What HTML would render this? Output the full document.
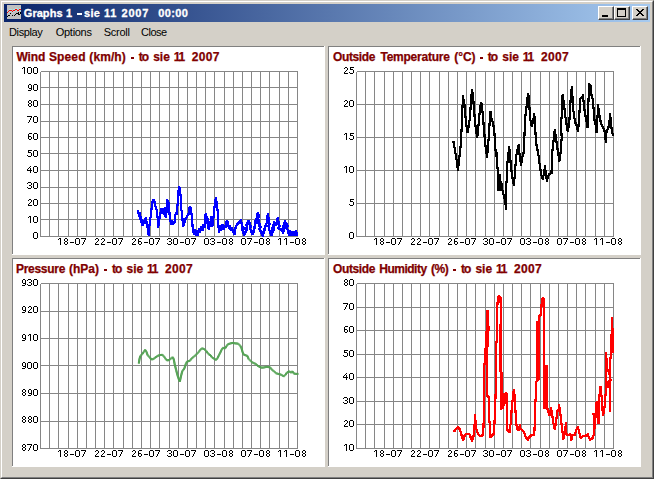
<!DOCTYPE html>
<html><head><meta charset="utf-8"><title>Graphs 1</title>
<style>
html,body{margin:0;padding:0;}
body{width:654px;height:479px;background:#d4d0c8;position:relative;overflow:hidden;font-family:"Liberation Sans",sans-serif;}
#frame{position:absolute;left:0;top:0;width:652px;height:477px;border-top:1px solid #d4d0c8;border-left:1px solid #d4d0c8;border-right:1px solid #404040;border-bottom:1px solid #404040;}
#frame2{position:absolute;left:1px;top:1px;width:650px;height:475px;border-top:1px solid #fff;border-left:1px solid #fff;border-right:1px solid #808080;border-bottom:1px solid #808080;}
#tb{position:absolute;left:4px;top:4px;width:646px;height:18px;background:linear-gradient(to right,#0a246a 0%,#a6caf0 100%);}
.tt{position:absolute;height:18px;line-height:18px;font-size:11px;font-weight:bold;color:#fff;white-space:pre;-webkit-text-stroke:0.3px #fff;}
.btn{position:absolute;top:6px;width:16px;height:14px;background:#d4d0c8;box-sizing:border-box;border-top:1px solid #fff;border-left:1px solid #fff;border-right:1px solid #404040;border-bottom:1px solid #404040;}
.btn i{position:absolute;left:0;top:0;right:0;bottom:0;border-right:1px solid #808080;border-bottom:1px solid #808080;}
.mi{position:absolute;height:16px;line-height:16px;font-size:11px;color:#000;white-space:pre;}
.panel{position:absolute;width:313px;height:209px;background:#fff;}
.panel:before{content:'';position:absolute;left:0;top:0;width:312px;height:1px;background:#808080;}
.panel:after{content:'';position:absolute;left:0;top:0;width:1px;height:208px;background:#808080;}
.pt{position:absolute;font-size:12px;font-weight:bold;color:#800000;-webkit-text-stroke:0.25px #800000;white-space:pre;line-height:14px;height:14px;}
.bx{position:absolute;}
svg{position:absolute;left:0;top:0;}
.btn svg{left:-1px;top:-1px;}
</style></head>
<body>
<div id="frame"></div><div id="frame2"></div>
<div id="tb"></div>
<svg width="654" height="479" viewBox="0 0 654 479" shape-rendering="crispEdges"><rect x="7" y="5" width="14" height="14" fill="#c0c0c0"/><path d="M15 8h1v1h-1zM16 8h1v1h-1zM17 8h1v1h-1zM19 8h1v1h-1zM20 8h1v1h-1zM9 9h1v1h-1zM10 9h1v1h-1zM11 9h1v1h-1zM13 9h1v1h-1zM14 9h1v1h-1zM7 11h1v1h-1zM9 11h1v1h-1zM10 11h1v1h-1zM11 11h1v1h-1zM13 11h1v1h-1zM14 11h1v1h-1zM16 10h1v1h-1zM19 10h1v1h-1zM20 10h1v1h-1zM8 12h1v1h-1zM12 12h1v1h-1z" fill="#b0e0e0"/><path d="M7 12h1v1h-1zM8 11h1v1h-1zM9 10h1v1h-1zM10 10h1v1h-1zM11 10h1v1h-1zM12 11h1v1h-1zM13 10h1v1h-1zM14 10h1v1h-1zM15 9h1v1h-1zM16 9h1v1h-1zM17 10h1v1h-1zM18 10h1v1h-1zM19 9h1v1h-1zM20 9h1v1h-1z" fill="#ff0000"/><path d="M7 16h1v1h-1zM8 15h1v1h-1zM9 15h1v1h-1zM10 13h1v1h-1zM12 15h1v1h-1zM14 15h1v1h-1zM15 14h1v1h-1zM16 13h1v1h-1zM17 13h1v1h-1zM18 12h1v1h-1zM18 13h1v1h-1zM18 14h1v1h-1zM19 14h1v1h-1zM20 12h1v1h-1zM20 13h1v1h-1z" fill="#000"/></svg>
<div class="btn" style="left:598px"><i></i><svg width="16" height="14" shape-rendering="crispEdges"><rect x="4" y="9" width="6" height="2" fill="#000"/></svg></div>
<div class="btn" style="left:614px"><i></i><svg width="16" height="14" shape-rendering="crispEdges"><rect x="3" y="2" width="9" height="2" fill="#000"/><rect x="3" y="2" width="1" height="9" fill="#000"/><rect x="11" y="2" width="1" height="9" fill="#000"/><rect x="3" y="10" width="9" height="1" fill="#000"/></svg></div>
<div class="btn" style="left:632px"><i></i><svg width="16" height="14" shape-rendering="crispEdges"><path d="M4 3h2v1h1v1h2v-1h1v-1h2v1h-1v1h-1v1h-1v1h1v1h1v1h1v1h-2v-1h-1v-1h-2v1h-1v1h-2v-1h1v-1h1v-1h1v-1h-1v-1h-1v-1h-1z" fill="#000"/></svg></div>
<div class="panel" style="left:12px;top:46px"></div>
<div class="panel" style="left:328px;top:46px"></div>
<div class="panel" style="left:12px;top:258px"></div>
<div class="panel" style="left:328px;top:258px"></div>
<div class="tt" style="left:23.8px;top:4px;letter-spacing:0.04px">Graphs</div>
<div class="tt" style="left:66px;top:4px">1</div>
<div class="tt" style="left:84px;top:4px;letter-spacing:0.35px">sie</div>
<div class="tt" style="left:104px;top:4px;letter-spacing:0.8px">11</div>
<div class="tt" style="left:121.5px;top:4px;letter-spacing:0.77px">2007</div>
<div class="tt" style="left:158.2px;top:4px;letter-spacing:0.4px">00:00</div>
<div class="mi" style="left:9px;top:24px;letter-spacing:-0.38px">Display</div>
<div class="mi" style="left:55.8px;top:24px;letter-spacing:-0.3px">Options</div>
<div class="mi" style="left:103.8px;top:24px;letter-spacing:-0.26px">Scroll</div>
<div class="mi" style="left:141px;top:24px;letter-spacing:-0.5px">Close</div>
<div class="pt" style="left:16.4px;top:50px;letter-spacing:-0.07px">Wind</div>
<div class="pt" style="left:49px;top:50px;letter-spacing:0.12px">Speed</div>
<div class="pt" style="left:89.3px;top:50px;letter-spacing:0.1px">(km/h)</div>
<div class="pt" style="left:138.7px;top:50px;letter-spacing:-1px">to</div>
<div class="pt" style="left:153.2px;top:50px">sie</div>
<div class="pt" style="left:173.7px;top:50px;letter-spacing:-1.2px">11</div>
<div class="pt" style="left:191.8px;top:50px;letter-spacing:0.33px">2007</div>
<div class="pt" style="left:333px;top:50px;letter-spacing:-0.38px">Outside</div>
<div class="pt" style="left:380.5px;top:50px;letter-spacing:-0.25px">Temperature</div>
<div class="pt" style="left:454.3px;top:50px;letter-spacing:-0.1px">(°C)</div>
<div class="pt" style="left:487.8px;top:50px;letter-spacing:-1px">to</div>
<div class="pt" style="left:502.3px;top:50px">sie</div>
<div class="pt" style="left:522.8px;top:50px;letter-spacing:-1.2px">11</div>
<div class="pt" style="left:540.9px;top:50px;letter-spacing:0.33px">2007</div>
<div class="pt" style="left:16px;top:262px;letter-spacing:-0.29px">Pressure</div>
<div class="pt" style="left:69px;top:262px">(hPa)</div>
<div class="pt" style="left:112px;top:262px;letter-spacing:-1px">to</div>
<div class="pt" style="left:126.5px;top:262px">sie</div>
<div class="pt" style="left:147px;top:262px;letter-spacing:-1.2px">11</div>
<div class="pt" style="left:165.1px;top:262px;letter-spacing:0.33px">2007</div>
<div class="pt" style="left:333px;top:262px;letter-spacing:-0.38px">Outside</div>
<div class="pt" style="left:379.3px;top:262px;letter-spacing:-0.51px">Humidity</div>
<div class="pt" style="left:431px;top:262px;letter-spacing:-0.5px">(%)</div>
<div class="pt" style="left:460.9px;top:262px;letter-spacing:-1px">to</div>
<div class="pt" style="left:475.4px;top:262px">sie</div>
<div class="pt" style="left:495.9px;top:262px;letter-spacing:-1.2px">11</div>
<div class="pt" style="left:514px;top:262px;letter-spacing:0.33px">2007</div>
<div class="bx" style="left:77px;top:13px;width:4.5px;height:2px;background:#fff"></div>
<div class="bx" style="left:131px;top:57px;width:3px;height:1.5px;background:#800000"></div>
<div class="bx" style="left:480px;top:57px;width:3px;height:1.5px;background:#800000"></div>
<div class="bx" style="left:104px;top:269px;width:3px;height:1.5px;background:#800000"></div>
<div class="bx" style="left:453px;top:269px;width:3px;height:1.5px;background:#800000"></div>








<svg width="654" height="479" viewBox="0 0 654 479">
<path d="M40.5 71.5V236.5M49.5 71.5V236.5M58.5 71.5V236.5M68.5 71.5V236.5M77.5 71.5V236.5M86.5 71.5V236.5M95.5 71.5V236.5M104.5 71.5V236.5M113.5 71.5V236.5M123.5 71.5V236.5M132.5 71.5V236.5M141.5 71.5V236.5M150.5 71.5V236.5M159.5 71.5V236.5M169.5 71.5V236.5M178.5 71.5V236.5M187.5 71.5V236.5M196.5 71.5V236.5M205.5 71.5V236.5M214.5 71.5V236.5M224.5 71.5V236.5M233.5 71.5V236.5M242.5 71.5V236.5M251.5 71.5V236.5M260.5 71.5V236.5M269.5 71.5V236.5M279.5 71.5V236.5M288.5 71.5V236.5M297.5 71.5V236.5M40.5 71.5H297.5M40.5 87.5H297.5M40.5 104.5H297.5M40.5 121.5H297.5M40.5 137.5H297.5M40.5 153.5H297.5M40.5 170.5H297.5M40.5 187.5H297.5M40.5 203.5H297.5M40.5 219.5H297.5M40.5 236.5H297.5" stroke="#868686" stroke-width="1" fill="none" shape-rendering="crispEdges"/>
<polyline points="138.1,210.6 138.9,215.9 139.6,213 140.1,219.4 140.8,217.1 141.2,222.3 141.9,220 142.4,225.5 143.4,221.7 143.9,221.2 144.8,222.7 145.7,217.7 146.6,221.7 147.4,226.4 148.3,231.1 148.6,235.2 149.2,228.8 149.8,221.7 150.6,217.1 151.5,208.9 152.5,201.9 153.6,199.5 154.8,203 155.6,207.1 156.8,210.1 157.4,215.9 158,221.7 158.2,227 159.1,220.6 160.3,214.7 161.1,209.5 162.1,212.6 163,208.7 163.8,213.8 164.6,208.3 165.3,216.1 165.8,210.1 166.3,217.1 166.7,205.4 167.3,199.5 167.9,206 168.4,200.7 168.8,212.6 169.3,209.1 169.7,217.1 170.5,221.7 171.2,223.9 172.1,221.5 172.8,223.6 173.7,221.7 174.4,223.6 174.9,217.1 175.9,213 176.7,213.6 177.5,205.4 178.2,193.7 179,186.7 180.2,190.2 180.8,199.5 181.3,208.9 181.9,213.6 182.5,219.4 183.1,226.4 184.3,222.9 185.4,219.4 187.2,215.9 188.4,213.6 188.7,213.6 189.6,207.1 191,207.7 191.6,214.7 192.2,221.7 192.8,228.8 193.9,234 194.8,230.5 195.7,235.5 196.9,231.1 197.8,234.6 199,229.3 200.1,232.3 201.3,227 202.5,229.9 203.6,224.7 204.5,227 205,221.7 205.6,214.1 206.8,217.1 207.1,222.9 207.7,219.4 208.2,228.2 208.9,229.3 209.5,221.7 210.3,225.8 210.9,217.1 211.8,219.4 212.3,225.8 213,225.3 213.5,217.1 214.2,210.1 215,201.9 215.8,198.4 216.7,203 217.7,211.2 218.1,220.6 218.6,227.6 219.1,231.7 220,225.8 220.8,229.9 221.6,226.4 222.6,224.7 223.5,229.3 224.4,225.8 225.5,227 226.3,222.3 227.5,221.2 228.2,225.3 229,228.2 229.8,226.4 230.8,230.5 231.9,227.6 233.1,231.1 234.5,234 235.2,228.8 236,227 236.6,225.3 238,223.5 238.1,223.5 239.8,221.7 241.2,219.6 241,222.2 242.4,223.8 242.2,226.4 243.3,227.9 241.9,229.6 243.1,231.1 243,232.3 244.4,233.9 244.3,235.2 245.7,232.3 244.3,233.9 245.7,231.1 245.4,227.9 246.8,229.6 246.6,226.4 247.9,223.2 246.5,224.9 247.8,221.7 249,220.6 248.7,222.1 250.1,223.8 249.8,225.3 251.1,226.8 249.7,228.4 251,229.9 251.1,231.4 252.4,233.1 252.5,234.6 253.9,231.4 252.5,233.1 253.9,229.9 253.7,226.8 255.1,228.4 254.8,225.3 256.1,221.6 254.7,223.2 256,219.4 257.4,217.1 257,214.4 258.4,216 258,213.3 259.1,216.1 257.7,217.8 258.8,220.6 258.4,222.7 259.8,224.3 259.5,226.4 260.6,227.3 259.2,229 260.3,229.9 260.2,230.8 261.6,232.5 261.5,233.4 262.6,235.8 263.9,232.6 262.5,234.2 263.8,231.1 263.7,228.5 265.1,230.2 265,227.6 266.1,224.7 267.3,221.7 268.3,217.3 266.9,218.9 267.9,214.5 267.7,217.3 269.1,218.9 268.8,221.7 269.8,224.4 268.4,226.1 269.3,228.8 269.1,229.8 270.4,231.4 270.2,232.3 271.4,235.2 272.7,232.3 271.3,233.9 272.6,231.1 272.4,227.9 273.8,229.6 273.5,226.4 274.6,223.6 273.2,225.2 274.3,222.3 275.5,225.3 275.4,222.7 276.8,224.3 276.7,221.7 277.9,219.3 276.6,220.9 277.8,218.5 277.6,221.1 279,222.7 278.8,225.3 279.9,226.2 278.5,227.9 279.6,228.8 280.8,229.9 281.9,228.8 281.7,230.3 283.1,231.9 282.9,233.4 284,230.3 282.6,231.9 283.7,228.8 283.4,225.6 284.8,227.2 284.5,224.1 285.6,221.5 284.2,223.2 285.4,220.6 285.2,222.1 286.6,223.8 286.4,225.3 287.5,226.2 286.1,227.9 287.2,228.8 288,231.1 288,232 289,235 290,231.5 291,235 292,232 293,235 294,232 295,235 296,231 297,235" fill="none" stroke="#0000ff" stroke-width="1.1" stroke-linejoin="round" stroke-linecap="square" shape-rendering="crispEdges" transform="translate(-0.5 -0.5)"/>
<polyline points="138.1,210.6 138.9,215.9 139.6,213 140.1,219.4 140.8,217.1 141.2,222.3 141.9,220 142.4,225.5 143.4,221.7 143.9,221.2 144.8,222.7 145.7,217.7 146.6,221.7 147.4,226.4 148.3,231.1 148.6,235.2 149.2,228.8 149.8,221.7 150.6,217.1 151.5,208.9 152.5,201.9 153.6,199.5 154.8,203 155.6,207.1 156.8,210.1 157.4,215.9 158,221.7 158.2,227 159.1,220.6 160.3,214.7 161.1,209.5 162.1,212.6 163,208.7 163.8,213.8 164.6,208.3 165.3,216.1 165.8,210.1 166.3,217.1 166.7,205.4 167.3,199.5 167.9,206 168.4,200.7 168.8,212.6 169.3,209.1 169.7,217.1 170.5,221.7 171.2,223.9 172.1,221.5 172.8,223.6 173.7,221.7 174.4,223.6 174.9,217.1 175.9,213 176.7,213.6 177.5,205.4 178.2,193.7 179,186.7 180.2,190.2 180.8,199.5 181.3,208.9 181.9,213.6 182.5,219.4 183.1,226.4 184.3,222.9 185.4,219.4 187.2,215.9 188.4,213.6 188.7,213.6 189.6,207.1 191,207.7 191.6,214.7 192.2,221.7 192.8,228.8 193.9,234 194.8,230.5 195.7,235.5 196.9,231.1 197.8,234.6 199,229.3 200.1,232.3 201.3,227 202.5,229.9 203.6,224.7 204.5,227 205,221.7 205.6,214.1 206.8,217.1 207.1,222.9 207.7,219.4 208.2,228.2 208.9,229.3 209.5,221.7 210.3,225.8 210.9,217.1 211.8,219.4 212.3,225.8 213,225.3 213.5,217.1 214.2,210.1 215,201.9 215.8,198.4 216.7,203 217.7,211.2 218.1,220.6 218.6,227.6 219.1,231.7 220,225.8 220.8,229.9 221.6,226.4 222.6,224.7 223.5,229.3 224.4,225.8 225.5,227 226.3,222.3 227.5,221.2 228.2,225.3 229,228.2 229.8,226.4 230.8,230.5 231.9,227.6 233.1,231.1 234.5,234 235.2,228.8 236,227 236.6,225.3 238,223.5 238.1,223.5 239.8,221.7 241.2,219.6 241,222.2 242.4,223.8 242.2,226.4 243.3,227.9 241.9,229.6 243.1,231.1 243,232.3 244.4,233.9 244.3,235.2 245.7,232.3 244.3,233.9 245.7,231.1 245.4,227.9 246.8,229.6 246.6,226.4 247.9,223.2 246.5,224.9 247.8,221.7 249,220.6 248.7,222.1 250.1,223.8 249.8,225.3 251.1,226.8 249.7,228.4 251,229.9 251.1,231.4 252.4,233.1 252.5,234.6 253.9,231.4 252.5,233.1 253.9,229.9 253.7,226.8 255.1,228.4 254.8,225.3 256.1,221.6 254.7,223.2 256,219.4 257.4,217.1 257,214.4 258.4,216 258,213.3 259.1,216.1 257.7,217.8 258.8,220.6 258.4,222.7 259.8,224.3 259.5,226.4 260.6,227.3 259.2,229 260.3,229.9 260.2,230.8 261.6,232.5 261.5,233.4 262.6,235.8 263.9,232.6 262.5,234.2 263.8,231.1 263.7,228.5 265.1,230.2 265,227.6 266.1,224.7 267.3,221.7 268.3,217.3 266.9,218.9 267.9,214.5 267.7,217.3 269.1,218.9 268.8,221.7 269.8,224.4 268.4,226.1 269.3,228.8 269.1,229.8 270.4,231.4 270.2,232.3 271.4,235.2 272.7,232.3 271.3,233.9 272.6,231.1 272.4,227.9 273.8,229.6 273.5,226.4 274.6,223.6 273.2,225.2 274.3,222.3 275.5,225.3 275.4,222.7 276.8,224.3 276.7,221.7 277.9,219.3 276.6,220.9 277.8,218.5 277.6,221.1 279,222.7 278.8,225.3 279.9,226.2 278.5,227.9 279.6,228.8 280.8,229.9 281.9,228.8 281.7,230.3 283.1,231.9 282.9,233.4 284,230.3 282.6,231.9 283.7,228.8 283.4,225.6 284.8,227.2 284.5,224.1 285.6,221.5 284.2,223.2 285.4,220.6 285.2,222.1 286.6,223.8 286.4,225.3 287.5,226.2 286.1,227.9 287.2,228.8 288,231.1 288,232 289,235 290,231.5 291,235 292,232 293,235 294,232 295,235 296,231 297,235" fill="none" stroke="#0000ff" stroke-width="1.1" stroke-linejoin="round" stroke-linecap="square" shape-rendering="crispEdges" transform="translate(0.5 -0.5)"/>
<polyline points="138.1,210.6 138.9,215.9 139.6,213 140.1,219.4 140.8,217.1 141.2,222.3 141.9,220 142.4,225.5 143.4,221.7 143.9,221.2 144.8,222.7 145.7,217.7 146.6,221.7 147.4,226.4 148.3,231.1 148.6,235.2 149.2,228.8 149.8,221.7 150.6,217.1 151.5,208.9 152.5,201.9 153.6,199.5 154.8,203 155.6,207.1 156.8,210.1 157.4,215.9 158,221.7 158.2,227 159.1,220.6 160.3,214.7 161.1,209.5 162.1,212.6 163,208.7 163.8,213.8 164.6,208.3 165.3,216.1 165.8,210.1 166.3,217.1 166.7,205.4 167.3,199.5 167.9,206 168.4,200.7 168.8,212.6 169.3,209.1 169.7,217.1 170.5,221.7 171.2,223.9 172.1,221.5 172.8,223.6 173.7,221.7 174.4,223.6 174.9,217.1 175.9,213 176.7,213.6 177.5,205.4 178.2,193.7 179,186.7 180.2,190.2 180.8,199.5 181.3,208.9 181.9,213.6 182.5,219.4 183.1,226.4 184.3,222.9 185.4,219.4 187.2,215.9 188.4,213.6 188.7,213.6 189.6,207.1 191,207.7 191.6,214.7 192.2,221.7 192.8,228.8 193.9,234 194.8,230.5 195.7,235.5 196.9,231.1 197.8,234.6 199,229.3 200.1,232.3 201.3,227 202.5,229.9 203.6,224.7 204.5,227 205,221.7 205.6,214.1 206.8,217.1 207.1,222.9 207.7,219.4 208.2,228.2 208.9,229.3 209.5,221.7 210.3,225.8 210.9,217.1 211.8,219.4 212.3,225.8 213,225.3 213.5,217.1 214.2,210.1 215,201.9 215.8,198.4 216.7,203 217.7,211.2 218.1,220.6 218.6,227.6 219.1,231.7 220,225.8 220.8,229.9 221.6,226.4 222.6,224.7 223.5,229.3 224.4,225.8 225.5,227 226.3,222.3 227.5,221.2 228.2,225.3 229,228.2 229.8,226.4 230.8,230.5 231.9,227.6 233.1,231.1 234.5,234 235.2,228.8 236,227 236.6,225.3 238,223.5 238.1,223.5 239.8,221.7 241.2,219.6 241,222.2 242.4,223.8 242.2,226.4 243.3,227.9 241.9,229.6 243.1,231.1 243,232.3 244.4,233.9 244.3,235.2 245.7,232.3 244.3,233.9 245.7,231.1 245.4,227.9 246.8,229.6 246.6,226.4 247.9,223.2 246.5,224.9 247.8,221.7 249,220.6 248.7,222.1 250.1,223.8 249.8,225.3 251.1,226.8 249.7,228.4 251,229.9 251.1,231.4 252.4,233.1 252.5,234.6 253.9,231.4 252.5,233.1 253.9,229.9 253.7,226.8 255.1,228.4 254.8,225.3 256.1,221.6 254.7,223.2 256,219.4 257.4,217.1 257,214.4 258.4,216 258,213.3 259.1,216.1 257.7,217.8 258.8,220.6 258.4,222.7 259.8,224.3 259.5,226.4 260.6,227.3 259.2,229 260.3,229.9 260.2,230.8 261.6,232.5 261.5,233.4 262.6,235.8 263.9,232.6 262.5,234.2 263.8,231.1 263.7,228.5 265.1,230.2 265,227.6 266.1,224.7 267.3,221.7 268.3,217.3 266.9,218.9 267.9,214.5 267.7,217.3 269.1,218.9 268.8,221.7 269.8,224.4 268.4,226.1 269.3,228.8 269.1,229.8 270.4,231.4 270.2,232.3 271.4,235.2 272.7,232.3 271.3,233.9 272.6,231.1 272.4,227.9 273.8,229.6 273.5,226.4 274.6,223.6 273.2,225.2 274.3,222.3 275.5,225.3 275.4,222.7 276.8,224.3 276.7,221.7 277.9,219.3 276.6,220.9 277.8,218.5 277.6,221.1 279,222.7 278.8,225.3 279.9,226.2 278.5,227.9 279.6,228.8 280.8,229.9 281.9,228.8 281.7,230.3 283.1,231.9 282.9,233.4 284,230.3 282.6,231.9 283.7,228.8 283.4,225.6 284.8,227.2 284.5,224.1 285.6,221.5 284.2,223.2 285.4,220.6 285.2,222.1 286.6,223.8 286.4,225.3 287.5,226.2 286.1,227.9 287.2,228.8 288,231.1 288,232 289,235 290,231.5 291,235 292,232 293,235 294,232 295,235 296,231 297,235" fill="none" stroke="#0000ff" stroke-width="1.1" stroke-linejoin="round" stroke-linecap="square" shape-rendering="crispEdges" transform="translate(-0.5 0.5)"/>
<polyline points="138.1,210.6 138.9,215.9 139.6,213 140.1,219.4 140.8,217.1 141.2,222.3 141.9,220 142.4,225.5 143.4,221.7 143.9,221.2 144.8,222.7 145.7,217.7 146.6,221.7 147.4,226.4 148.3,231.1 148.6,235.2 149.2,228.8 149.8,221.7 150.6,217.1 151.5,208.9 152.5,201.9 153.6,199.5 154.8,203 155.6,207.1 156.8,210.1 157.4,215.9 158,221.7 158.2,227 159.1,220.6 160.3,214.7 161.1,209.5 162.1,212.6 163,208.7 163.8,213.8 164.6,208.3 165.3,216.1 165.8,210.1 166.3,217.1 166.7,205.4 167.3,199.5 167.9,206 168.4,200.7 168.8,212.6 169.3,209.1 169.7,217.1 170.5,221.7 171.2,223.9 172.1,221.5 172.8,223.6 173.7,221.7 174.4,223.6 174.9,217.1 175.9,213 176.7,213.6 177.5,205.4 178.2,193.7 179,186.7 180.2,190.2 180.8,199.5 181.3,208.9 181.9,213.6 182.5,219.4 183.1,226.4 184.3,222.9 185.4,219.4 187.2,215.9 188.4,213.6 188.7,213.6 189.6,207.1 191,207.7 191.6,214.7 192.2,221.7 192.8,228.8 193.9,234 194.8,230.5 195.7,235.5 196.9,231.1 197.8,234.6 199,229.3 200.1,232.3 201.3,227 202.5,229.9 203.6,224.7 204.5,227 205,221.7 205.6,214.1 206.8,217.1 207.1,222.9 207.7,219.4 208.2,228.2 208.9,229.3 209.5,221.7 210.3,225.8 210.9,217.1 211.8,219.4 212.3,225.8 213,225.3 213.5,217.1 214.2,210.1 215,201.9 215.8,198.4 216.7,203 217.7,211.2 218.1,220.6 218.6,227.6 219.1,231.7 220,225.8 220.8,229.9 221.6,226.4 222.6,224.7 223.5,229.3 224.4,225.8 225.5,227 226.3,222.3 227.5,221.2 228.2,225.3 229,228.2 229.8,226.4 230.8,230.5 231.9,227.6 233.1,231.1 234.5,234 235.2,228.8 236,227 236.6,225.3 238,223.5 238.1,223.5 239.8,221.7 241.2,219.6 241,222.2 242.4,223.8 242.2,226.4 243.3,227.9 241.9,229.6 243.1,231.1 243,232.3 244.4,233.9 244.3,235.2 245.7,232.3 244.3,233.9 245.7,231.1 245.4,227.9 246.8,229.6 246.6,226.4 247.9,223.2 246.5,224.9 247.8,221.7 249,220.6 248.7,222.1 250.1,223.8 249.8,225.3 251.1,226.8 249.7,228.4 251,229.9 251.1,231.4 252.4,233.1 252.5,234.6 253.9,231.4 252.5,233.1 253.9,229.9 253.7,226.8 255.1,228.4 254.8,225.3 256.1,221.6 254.7,223.2 256,219.4 257.4,217.1 257,214.4 258.4,216 258,213.3 259.1,216.1 257.7,217.8 258.8,220.6 258.4,222.7 259.8,224.3 259.5,226.4 260.6,227.3 259.2,229 260.3,229.9 260.2,230.8 261.6,232.5 261.5,233.4 262.6,235.8 263.9,232.6 262.5,234.2 263.8,231.1 263.7,228.5 265.1,230.2 265,227.6 266.1,224.7 267.3,221.7 268.3,217.3 266.9,218.9 267.9,214.5 267.7,217.3 269.1,218.9 268.8,221.7 269.8,224.4 268.4,226.1 269.3,228.8 269.1,229.8 270.4,231.4 270.2,232.3 271.4,235.2 272.7,232.3 271.3,233.9 272.6,231.1 272.4,227.9 273.8,229.6 273.5,226.4 274.6,223.6 273.2,225.2 274.3,222.3 275.5,225.3 275.4,222.7 276.8,224.3 276.7,221.7 277.9,219.3 276.6,220.9 277.8,218.5 277.6,221.1 279,222.7 278.8,225.3 279.9,226.2 278.5,227.9 279.6,228.8 280.8,229.9 281.9,228.8 281.7,230.3 283.1,231.9 282.9,233.4 284,230.3 282.6,231.9 283.7,228.8 283.4,225.6 284.8,227.2 284.5,224.1 285.6,221.5 284.2,223.2 285.4,220.6 285.2,222.1 286.6,223.8 286.4,225.3 287.5,226.2 286.1,227.9 287.2,228.8 288,231.1 288,232 289,235 290,231.5 291,235 292,232 293,235 294,232 295,235 296,231 297,235" fill="none" stroke="#0000ff" stroke-width="1.1" stroke-linejoin="round" stroke-linecap="square" shape-rendering="crispEdges" transform="translate(0.5 0.5)"/>
<path d="M356.5 71.5V236.5M365.5 71.5V236.5M374.5 71.5V236.5M384.5 71.5V236.5M393.5 71.5V236.5M402.5 71.5V236.5M411.5 71.5V236.5M420.5 71.5V236.5M429.5 71.5V236.5M439.5 71.5V236.5M448.5 71.5V236.5M457.5 71.5V236.5M466.5 71.5V236.5M475.5 71.5V236.5M485.5 71.5V236.5M494.5 71.5V236.5M503.5 71.5V236.5M512.5 71.5V236.5M521.5 71.5V236.5M530.5 71.5V236.5M540.5 71.5V236.5M549.5 71.5V236.5M558.5 71.5V236.5M567.5 71.5V236.5M576.5 71.5V236.5M585.5 71.5V236.5M595.5 71.5V236.5M604.5 71.5V236.5M613.5 71.5V236.5M356.5 71.5H613.5M356.5 104.5H613.5M356.5 137.5H613.5M356.5 170.5H613.5M356.5 203.5H613.5M356.5 236.5H613.5" stroke="#868686" stroke-width="1" fill="none" shape-rendering="crispEdges"/>
<polyline points="453.5,142.2 454.5,147.3 455.7,154.6 456.9,161.9 457.9,170 458.9,161.9 459.8,153.2 460.8,144.4 461.2,137.4 461.8,124.2 462.3,111.1 463,96.5 464.5,105.2 465.6,118.4 466.7,127.1 467.4,132.3 468.8,125.7 470,116.9 470.7,105.2 471.5,95 472.2,90.3 473.2,97.9 474,109.6 475,121.3 475.9,130.1 477.3,136.6 478.3,127.1 479.4,115.5 480.2,106.7 481.3,102.6 482.3,109.6 483.2,119.8 484.2,131.5 484.9,140.3 485.6,147.3 487.1,156.8 487.8,148.8 489,134.5 489.6,122.8 490.5,111.8 491.5,118.4 493,122.8 494.4,131.5 495.1,147.3 496.3,156.1 496.7,153.2 497.2,161.9 497.8,173.6 498.3,190.4 499.5,174.3 500.4,190.4 501.3,182.4 502.6,191.1 504,196.3 505.1,201.4 506.2,209.4 506.2,198.5 505.9,188.2 507,176.5 507.4,163.4 508.4,154.6 509.2,146.6 510.2,157.5 510.9,166.3 511.8,173.6 512.8,179.5 513.8,184.6 514.7,176.5 515.4,166.3 516.2,156.1 517.2,151 518.7,144.8 519.4,153.2 520.1,159 521.1,164.8 522.3,157.5 523.5,153.2 524.1,145.8 524.5,134.5 524.9,124.2 525.5,114.7 526.7,105.2 527.4,97.9 528.4,94.3 529.3,105.2 529.9,115.5 530.8,122.8 531.8,126.4 533.3,119.8 534.3,114.3 535.2,127.1 535.7,137.4 536.6,145.4 536.9,147.3 538.4,154.6 539.5,163.4 540.6,170.7 541.6,175.8 542.8,179.5 543.9,173.6 545,166.3 546,175.1 546.9,180.9 547.9,176.5 549.3,174.3 551.5,172.9 551.7,166.5 552.1,156.3 552.7,147.5 553.6,140.2 554.6,131.5 554.6,130.1 555.6,135.9 556.5,141.7 557.5,149 558.5,154.8 559.4,161.4 560.4,154.8 561.2,144.6 561.9,134.4 560.9,134.5 561.4,119.8 562.2,107.4 562.6,95 564.1,105.2 565.2,115.5 566.3,122.8 567.7,131.5 569.2,124.2 569.9,112.5 570.7,97.9 571.8,87.4 572.6,97.9 573.1,108.1 574,115.5 575,121.3 576.5,125.7 578,131.2 579,119.8 579.9,105.2 580.4,98.7 581.9,97.9 583.1,95 583.8,105.2 584.8,112.5 586.3,119.8 587.5,127.1 588,112.5 588.6,97.9 589.2,84.5 590.7,86.2 591.5,95 592.3,97.9 593,99.4 593.6,109.6 594.5,119.8 595.5,124.2 596.5,132.3 597.4,119.8 598,105.2 599.1,114 600.3,119.8 601.3,124.2 602.8,127.1 604.3,130.1 605.3,134.5 605.7,142.5 606.5,131.5 607.9,128.6 609.1,125.7 610.1,113.7 611.1,124.2 612,131.5 613,135.2" fill="none" stroke="#000000" stroke-width="1.1" stroke-linejoin="round" stroke-linecap="square" shape-rendering="crispEdges" transform="translate(-0.5 -0.5)"/>
<polyline points="453.5,142.2 454.5,147.3 455.7,154.6 456.9,161.9 457.9,170 458.9,161.9 459.8,153.2 460.8,144.4 461.2,137.4 461.8,124.2 462.3,111.1 463,96.5 464.5,105.2 465.6,118.4 466.7,127.1 467.4,132.3 468.8,125.7 470,116.9 470.7,105.2 471.5,95 472.2,90.3 473.2,97.9 474,109.6 475,121.3 475.9,130.1 477.3,136.6 478.3,127.1 479.4,115.5 480.2,106.7 481.3,102.6 482.3,109.6 483.2,119.8 484.2,131.5 484.9,140.3 485.6,147.3 487.1,156.8 487.8,148.8 489,134.5 489.6,122.8 490.5,111.8 491.5,118.4 493,122.8 494.4,131.5 495.1,147.3 496.3,156.1 496.7,153.2 497.2,161.9 497.8,173.6 498.3,190.4 499.5,174.3 500.4,190.4 501.3,182.4 502.6,191.1 504,196.3 505.1,201.4 506.2,209.4 506.2,198.5 505.9,188.2 507,176.5 507.4,163.4 508.4,154.6 509.2,146.6 510.2,157.5 510.9,166.3 511.8,173.6 512.8,179.5 513.8,184.6 514.7,176.5 515.4,166.3 516.2,156.1 517.2,151 518.7,144.8 519.4,153.2 520.1,159 521.1,164.8 522.3,157.5 523.5,153.2 524.1,145.8 524.5,134.5 524.9,124.2 525.5,114.7 526.7,105.2 527.4,97.9 528.4,94.3 529.3,105.2 529.9,115.5 530.8,122.8 531.8,126.4 533.3,119.8 534.3,114.3 535.2,127.1 535.7,137.4 536.6,145.4 536.9,147.3 538.4,154.6 539.5,163.4 540.6,170.7 541.6,175.8 542.8,179.5 543.9,173.6 545,166.3 546,175.1 546.9,180.9 547.9,176.5 549.3,174.3 551.5,172.9 551.7,166.5 552.1,156.3 552.7,147.5 553.6,140.2 554.6,131.5 554.6,130.1 555.6,135.9 556.5,141.7 557.5,149 558.5,154.8 559.4,161.4 560.4,154.8 561.2,144.6 561.9,134.4 560.9,134.5 561.4,119.8 562.2,107.4 562.6,95 564.1,105.2 565.2,115.5 566.3,122.8 567.7,131.5 569.2,124.2 569.9,112.5 570.7,97.9 571.8,87.4 572.6,97.9 573.1,108.1 574,115.5 575,121.3 576.5,125.7 578,131.2 579,119.8 579.9,105.2 580.4,98.7 581.9,97.9 583.1,95 583.8,105.2 584.8,112.5 586.3,119.8 587.5,127.1 588,112.5 588.6,97.9 589.2,84.5 590.7,86.2 591.5,95 592.3,97.9 593,99.4 593.6,109.6 594.5,119.8 595.5,124.2 596.5,132.3 597.4,119.8 598,105.2 599.1,114 600.3,119.8 601.3,124.2 602.8,127.1 604.3,130.1 605.3,134.5 605.7,142.5 606.5,131.5 607.9,128.6 609.1,125.7 610.1,113.7 611.1,124.2 612,131.5 613,135.2" fill="none" stroke="#000000" stroke-width="1.1" stroke-linejoin="round" stroke-linecap="square" shape-rendering="crispEdges" transform="translate(0.5 -0.5)"/>
<polyline points="453.5,142.2 454.5,147.3 455.7,154.6 456.9,161.9 457.9,170 458.9,161.9 459.8,153.2 460.8,144.4 461.2,137.4 461.8,124.2 462.3,111.1 463,96.5 464.5,105.2 465.6,118.4 466.7,127.1 467.4,132.3 468.8,125.7 470,116.9 470.7,105.2 471.5,95 472.2,90.3 473.2,97.9 474,109.6 475,121.3 475.9,130.1 477.3,136.6 478.3,127.1 479.4,115.5 480.2,106.7 481.3,102.6 482.3,109.6 483.2,119.8 484.2,131.5 484.9,140.3 485.6,147.3 487.1,156.8 487.8,148.8 489,134.5 489.6,122.8 490.5,111.8 491.5,118.4 493,122.8 494.4,131.5 495.1,147.3 496.3,156.1 496.7,153.2 497.2,161.9 497.8,173.6 498.3,190.4 499.5,174.3 500.4,190.4 501.3,182.4 502.6,191.1 504,196.3 505.1,201.4 506.2,209.4 506.2,198.5 505.9,188.2 507,176.5 507.4,163.4 508.4,154.6 509.2,146.6 510.2,157.5 510.9,166.3 511.8,173.6 512.8,179.5 513.8,184.6 514.7,176.5 515.4,166.3 516.2,156.1 517.2,151 518.7,144.8 519.4,153.2 520.1,159 521.1,164.8 522.3,157.5 523.5,153.2 524.1,145.8 524.5,134.5 524.9,124.2 525.5,114.7 526.7,105.2 527.4,97.9 528.4,94.3 529.3,105.2 529.9,115.5 530.8,122.8 531.8,126.4 533.3,119.8 534.3,114.3 535.2,127.1 535.7,137.4 536.6,145.4 536.9,147.3 538.4,154.6 539.5,163.4 540.6,170.7 541.6,175.8 542.8,179.5 543.9,173.6 545,166.3 546,175.1 546.9,180.9 547.9,176.5 549.3,174.3 551.5,172.9 551.7,166.5 552.1,156.3 552.7,147.5 553.6,140.2 554.6,131.5 554.6,130.1 555.6,135.9 556.5,141.7 557.5,149 558.5,154.8 559.4,161.4 560.4,154.8 561.2,144.6 561.9,134.4 560.9,134.5 561.4,119.8 562.2,107.4 562.6,95 564.1,105.2 565.2,115.5 566.3,122.8 567.7,131.5 569.2,124.2 569.9,112.5 570.7,97.9 571.8,87.4 572.6,97.9 573.1,108.1 574,115.5 575,121.3 576.5,125.7 578,131.2 579,119.8 579.9,105.2 580.4,98.7 581.9,97.9 583.1,95 583.8,105.2 584.8,112.5 586.3,119.8 587.5,127.1 588,112.5 588.6,97.9 589.2,84.5 590.7,86.2 591.5,95 592.3,97.9 593,99.4 593.6,109.6 594.5,119.8 595.5,124.2 596.5,132.3 597.4,119.8 598,105.2 599.1,114 600.3,119.8 601.3,124.2 602.8,127.1 604.3,130.1 605.3,134.5 605.7,142.5 606.5,131.5 607.9,128.6 609.1,125.7 610.1,113.7 611.1,124.2 612,131.5 613,135.2" fill="none" stroke="#000000" stroke-width="1.1" stroke-linejoin="round" stroke-linecap="square" shape-rendering="crispEdges" transform="translate(-0.5 0.5)"/>
<polyline points="453.5,142.2 454.5,147.3 455.7,154.6 456.9,161.9 457.9,170 458.9,161.9 459.8,153.2 460.8,144.4 461.2,137.4 461.8,124.2 462.3,111.1 463,96.5 464.5,105.2 465.6,118.4 466.7,127.1 467.4,132.3 468.8,125.7 470,116.9 470.7,105.2 471.5,95 472.2,90.3 473.2,97.9 474,109.6 475,121.3 475.9,130.1 477.3,136.6 478.3,127.1 479.4,115.5 480.2,106.7 481.3,102.6 482.3,109.6 483.2,119.8 484.2,131.5 484.9,140.3 485.6,147.3 487.1,156.8 487.8,148.8 489,134.5 489.6,122.8 490.5,111.8 491.5,118.4 493,122.8 494.4,131.5 495.1,147.3 496.3,156.1 496.7,153.2 497.2,161.9 497.8,173.6 498.3,190.4 499.5,174.3 500.4,190.4 501.3,182.4 502.6,191.1 504,196.3 505.1,201.4 506.2,209.4 506.2,198.5 505.9,188.2 507,176.5 507.4,163.4 508.4,154.6 509.2,146.6 510.2,157.5 510.9,166.3 511.8,173.6 512.8,179.5 513.8,184.6 514.7,176.5 515.4,166.3 516.2,156.1 517.2,151 518.7,144.8 519.4,153.2 520.1,159 521.1,164.8 522.3,157.5 523.5,153.2 524.1,145.8 524.5,134.5 524.9,124.2 525.5,114.7 526.7,105.2 527.4,97.9 528.4,94.3 529.3,105.2 529.9,115.5 530.8,122.8 531.8,126.4 533.3,119.8 534.3,114.3 535.2,127.1 535.7,137.4 536.6,145.4 536.9,147.3 538.4,154.6 539.5,163.4 540.6,170.7 541.6,175.8 542.8,179.5 543.9,173.6 545,166.3 546,175.1 546.9,180.9 547.9,176.5 549.3,174.3 551.5,172.9 551.7,166.5 552.1,156.3 552.7,147.5 553.6,140.2 554.6,131.5 554.6,130.1 555.6,135.9 556.5,141.7 557.5,149 558.5,154.8 559.4,161.4 560.4,154.8 561.2,144.6 561.9,134.4 560.9,134.5 561.4,119.8 562.2,107.4 562.6,95 564.1,105.2 565.2,115.5 566.3,122.8 567.7,131.5 569.2,124.2 569.9,112.5 570.7,97.9 571.8,87.4 572.6,97.9 573.1,108.1 574,115.5 575,121.3 576.5,125.7 578,131.2 579,119.8 579.9,105.2 580.4,98.7 581.9,97.9 583.1,95 583.8,105.2 584.8,112.5 586.3,119.8 587.5,127.1 588,112.5 588.6,97.9 589.2,84.5 590.7,86.2 591.5,95 592.3,97.9 593,99.4 593.6,109.6 594.5,119.8 595.5,124.2 596.5,132.3 597.4,119.8 598,105.2 599.1,114 600.3,119.8 601.3,124.2 602.8,127.1 604.3,130.1 605.3,134.5 605.7,142.5 606.5,131.5 607.9,128.6 609.1,125.7 610.1,113.7 611.1,124.2 612,131.5 613,135.2" fill="none" stroke="#000000" stroke-width="1.1" stroke-linejoin="round" stroke-linecap="square" shape-rendering="crispEdges" transform="translate(0.5 0.5)"/>
<path d="M40.5 283.5V448.5M49.5 283.5V448.5M58.5 283.5V448.5M68.5 283.5V448.5M77.5 283.5V448.5M86.5 283.5V448.5M95.5 283.5V448.5M104.5 283.5V448.5M113.5 283.5V448.5M123.5 283.5V448.5M132.5 283.5V448.5M141.5 283.5V448.5M150.5 283.5V448.5M159.5 283.5V448.5M169.5 283.5V448.5M178.5 283.5V448.5M187.5 283.5V448.5M196.5 283.5V448.5M205.5 283.5V448.5M214.5 283.5V448.5M224.5 283.5V448.5M233.5 283.5V448.5M242.5 283.5V448.5M251.5 283.5V448.5M260.5 283.5V448.5M269.5 283.5V448.5M279.5 283.5V448.5M288.5 283.5V448.5M297.5 283.5V448.5M40.5 283.5H297.5M40.5 311.5H297.5M40.5 338.5H297.5M40.5 365.5H297.5M40.5 393.5H297.5M40.5 421.5H297.5M40.5 448.5H297.5" stroke="#868686" stroke-width="1" fill="none" shape-rendering="crispEdges"/>
<polyline points="138.9,362.9 139.4,359.5 140.3,356 142.4,354 143.8,351.9 145.1,349.8 146.5,351.9 147.6,355.3 149.3,356.7 151.3,359.5 153.4,359 155.5,357.4 157.5,356 159.6,355.1 162.3,354.9 163.7,356 165.1,358.1 166.5,360.1 168.5,360.4 170.6,358.8 172,357.7 172.9,357.4 173.8,359.5 174.7,364.3 176.1,369.8 177.5,375.3 178.9,379.4 179.8,381.5 181.2,375.3 182.3,371.2 184.4,368.4 185.7,364.3 187.1,361.5 189.9,360.8 191.9,358.1 194,356.7 196.1,354.6 198.8,351.9 200.2,349.8 202.2,348.4 204.3,349.1 206.4,351.2 208.4,354 210.5,355.3 212,357.4 214.1,358.8 216.1,359.9 217.5,358.1 218.9,355.3 220.3,352.6 221.6,349.8 223,347.8 225.1,348.4 226.4,346.4 227.8,344.3 229.9,343.6 232.6,342.9 235.4,343.4 238.1,343.6 240.2,345.7 241.6,348.4 242.5,351.9 243.6,354.6 245.7,355.3 247.5,356 248.5,358.8 249.8,360.1 251.9,362.2 254,363.2 256,364 257.4,365.6 259.5,366.8 261.5,367.7 264.3,367.4 266.4,366.8 268.4,367 270.5,367.7 271.9,369.8 273.9,371.2 276,373.2 278.1,373.9 280.1,374.3 282.2,375.3 283.8,376.4 285.6,374.6 287,372.5 289.1,371.4 291.1,372.5 292.5,371.4 293.9,373.6 295.9,373.9 297.6,373.9" fill="none" stroke="#50a050" stroke-width="0.9" stroke-linejoin="round" stroke-linecap="square" shape-rendering="crispEdges" transform="translate(-0.5 -0.5)"/>
<polyline points="138.9,362.9 139.4,359.5 140.3,356 142.4,354 143.8,351.9 145.1,349.8 146.5,351.9 147.6,355.3 149.3,356.7 151.3,359.5 153.4,359 155.5,357.4 157.5,356 159.6,355.1 162.3,354.9 163.7,356 165.1,358.1 166.5,360.1 168.5,360.4 170.6,358.8 172,357.7 172.9,357.4 173.8,359.5 174.7,364.3 176.1,369.8 177.5,375.3 178.9,379.4 179.8,381.5 181.2,375.3 182.3,371.2 184.4,368.4 185.7,364.3 187.1,361.5 189.9,360.8 191.9,358.1 194,356.7 196.1,354.6 198.8,351.9 200.2,349.8 202.2,348.4 204.3,349.1 206.4,351.2 208.4,354 210.5,355.3 212,357.4 214.1,358.8 216.1,359.9 217.5,358.1 218.9,355.3 220.3,352.6 221.6,349.8 223,347.8 225.1,348.4 226.4,346.4 227.8,344.3 229.9,343.6 232.6,342.9 235.4,343.4 238.1,343.6 240.2,345.7 241.6,348.4 242.5,351.9 243.6,354.6 245.7,355.3 247.5,356 248.5,358.8 249.8,360.1 251.9,362.2 254,363.2 256,364 257.4,365.6 259.5,366.8 261.5,367.7 264.3,367.4 266.4,366.8 268.4,367 270.5,367.7 271.9,369.8 273.9,371.2 276,373.2 278.1,373.9 280.1,374.3 282.2,375.3 283.8,376.4 285.6,374.6 287,372.5 289.1,371.4 291.1,372.5 292.5,371.4 293.9,373.6 295.9,373.9 297.6,373.9" fill="none" stroke="#50a050" stroke-width="0.9" stroke-linejoin="round" stroke-linecap="square" shape-rendering="crispEdges" transform="translate(0.5 -0.5)"/>
<polyline points="138.9,362.9 139.4,359.5 140.3,356 142.4,354 143.8,351.9 145.1,349.8 146.5,351.9 147.6,355.3 149.3,356.7 151.3,359.5 153.4,359 155.5,357.4 157.5,356 159.6,355.1 162.3,354.9 163.7,356 165.1,358.1 166.5,360.1 168.5,360.4 170.6,358.8 172,357.7 172.9,357.4 173.8,359.5 174.7,364.3 176.1,369.8 177.5,375.3 178.9,379.4 179.8,381.5 181.2,375.3 182.3,371.2 184.4,368.4 185.7,364.3 187.1,361.5 189.9,360.8 191.9,358.1 194,356.7 196.1,354.6 198.8,351.9 200.2,349.8 202.2,348.4 204.3,349.1 206.4,351.2 208.4,354 210.5,355.3 212,357.4 214.1,358.8 216.1,359.9 217.5,358.1 218.9,355.3 220.3,352.6 221.6,349.8 223,347.8 225.1,348.4 226.4,346.4 227.8,344.3 229.9,343.6 232.6,342.9 235.4,343.4 238.1,343.6 240.2,345.7 241.6,348.4 242.5,351.9 243.6,354.6 245.7,355.3 247.5,356 248.5,358.8 249.8,360.1 251.9,362.2 254,363.2 256,364 257.4,365.6 259.5,366.8 261.5,367.7 264.3,367.4 266.4,366.8 268.4,367 270.5,367.7 271.9,369.8 273.9,371.2 276,373.2 278.1,373.9 280.1,374.3 282.2,375.3 283.8,376.4 285.6,374.6 287,372.5 289.1,371.4 291.1,372.5 292.5,371.4 293.9,373.6 295.9,373.9 297.6,373.9" fill="none" stroke="#50a050" stroke-width="0.9" stroke-linejoin="round" stroke-linecap="square" shape-rendering="crispEdges" transform="translate(-0.5 0.5)"/>
<polyline points="138.9,362.9 139.4,359.5 140.3,356 142.4,354 143.8,351.9 145.1,349.8 146.5,351.9 147.6,355.3 149.3,356.7 151.3,359.5 153.4,359 155.5,357.4 157.5,356 159.6,355.1 162.3,354.9 163.7,356 165.1,358.1 166.5,360.1 168.5,360.4 170.6,358.8 172,357.7 172.9,357.4 173.8,359.5 174.7,364.3 176.1,369.8 177.5,375.3 178.9,379.4 179.8,381.5 181.2,375.3 182.3,371.2 184.4,368.4 185.7,364.3 187.1,361.5 189.9,360.8 191.9,358.1 194,356.7 196.1,354.6 198.8,351.9 200.2,349.8 202.2,348.4 204.3,349.1 206.4,351.2 208.4,354 210.5,355.3 212,357.4 214.1,358.8 216.1,359.9 217.5,358.1 218.9,355.3 220.3,352.6 221.6,349.8 223,347.8 225.1,348.4 226.4,346.4 227.8,344.3 229.9,343.6 232.6,342.9 235.4,343.4 238.1,343.6 240.2,345.7 241.6,348.4 242.5,351.9 243.6,354.6 245.7,355.3 247.5,356 248.5,358.8 249.8,360.1 251.9,362.2 254,363.2 256,364 257.4,365.6 259.5,366.8 261.5,367.7 264.3,367.4 266.4,366.8 268.4,367 270.5,367.7 271.9,369.8 273.9,371.2 276,373.2 278.1,373.9 280.1,374.3 282.2,375.3 283.8,376.4 285.6,374.6 287,372.5 289.1,371.4 291.1,372.5 292.5,371.4 293.9,373.6 295.9,373.9 297.6,373.9" fill="none" stroke="#50a050" stroke-width="0.9" stroke-linejoin="round" stroke-linecap="square" shape-rendering="crispEdges" transform="translate(0.5 0.5)"/>
<path d="M356.5 283.5V448.5M365.5 283.5V448.5M374.5 283.5V448.5M384.5 283.5V448.5M393.5 283.5V448.5M402.5 283.5V448.5M411.5 283.5V448.5M420.5 283.5V448.5M429.5 283.5V448.5M439.5 283.5V448.5M448.5 283.5V448.5M457.5 283.5V448.5M466.5 283.5V448.5M475.5 283.5V448.5M485.5 283.5V448.5M494.5 283.5V448.5M503.5 283.5V448.5M512.5 283.5V448.5M521.5 283.5V448.5M530.5 283.5V448.5M540.5 283.5V448.5M549.5 283.5V448.5M558.5 283.5V448.5M567.5 283.5V448.5M576.5 283.5V448.5M585.5 283.5V448.5M595.5 283.5V448.5M604.5 283.5V448.5M613.5 283.5V448.5M356.5 283.5H613.5M356.5 307.5H613.5M356.5 330.5H613.5M356.5 354.5H613.5M356.5 377.5H613.5M356.5 401.5H613.5M356.5 424.5H613.5M356.5 448.5H613.5" stroke="#868686" stroke-width="1" fill="none" shape-rendering="crispEdges"/>
<polyline points="454.6,431.1 456,429 458.2,427.5 459.7,429 460.9,432.6 461.9,436.3 463.3,439.9 464.4,436.3 465.5,434.4 467.7,433.8 469.6,434.4 470.7,437.7 472.1,440.6 473.1,437.7 474,434.1 474.6,423.8 475,415.1 475.8,423.8 476.5,429.7 477.2,431.9 478.7,434.8 480.4,436.3 482.3,436.3 483.4,431.1 483.7,416.5 483.9,394.6 484.1,380 484.1,379.8 484.4,365.2 485.3,353.5 486.3,334.2 486.9,328.4 487.5,311.1 488.3,311.1 488.5,329.8 487.2,350.6 487.3,395.9 488.9,397.4 488.9,409.2 489.6,423.8 490.4,437 491.8,435.5 493.6,434.1 494.5,422.4 495.1,409.2 495.5,397.5 495.9,380 495.6,342.3 496.8,341.5 496.8,305 497.5,304.3 497.8,297.7 499.1,296.2 500.5,297.7 500.6,305 500.5,371.1 501.5,372.5 501.5,394.5 500.9,409.2 501.6,408.5 502.1,394.6 502.7,407.8 503.2,394.6 503.8,404.8 504.4,393.9 505.3,403.4 505.9,394.6 506.5,393.2 507.2,409.2 507.2,429.7 508.6,431.1 509.5,431.9 510.6,423.8 511.7,409.2 512.7,399 513.8,389.5 515,399 515.6,413.6 516.5,425.3 517.5,429.7 519,430.4 519.7,425.3 520.4,428.2 522.6,430.4 524.1,432.6 525.5,436.3 527.7,439.9 529.9,436.3 532.1,434.8 534.3,435.5 534.7,423.8 535,410.7 535.8,394.6 536.1,382.9 535.8,382.8 537.2,379.8 536.9,321.8 537.7,339.3 538,379.5 538.5,379.5 539,338.6 539,316 540.7,315.2 541.3,309.4 541.9,299.2 543.4,298.4 544.2,302.1 543.8,365.2 543.9,407.8 545.7,407.8 545.7,366 547,366 547,408.5 547.5,409.2 549.6,415.1 551.1,408.5 552.1,413.6 553.3,422.4 554.8,429 556.2,422.4 557,411.4 558.4,410.7 559.1,404.8 560.3,413.6 561.3,422.4 562.4,431.1 563.2,439.2 564.3,435.5 565.9,423.5 566.6,435.5 568.8,434.8 570.3,434.1 571.3,439.9 572.5,434.8 574.7,435.5 576.1,430.4 578,427.5 579,431.1 580.1,436.3 581.2,437.7 583.4,435.5 585.3,436.3 587.8,434.1 588.8,437.7 590.3,439.6 592.2,438.5 593.6,435.5 594.4,429.7 593.5,413.6 595.1,420.9 594.7,428.2 595.8,412.1 596.6,401.9 597.6,410.7 598.5,423.8 599.1,409.2 599.5,394.6 600.5,386.6 601.7,397.5 602.4,409.2 603.1,415.1 604.3,409.2 605.3,397.5 606.1,388.8 606.1,380 606.1,353.1 607.2,369.2 609,371.4 610.5,380 608,382 607.5,387 609.5,386 610.3,411 610.4,358 611.4,357 611.7,318 613.1,337 613.2,352" fill="none" stroke="#ff0000" stroke-width="1.1" stroke-linejoin="round" stroke-linecap="square" shape-rendering="crispEdges" transform="translate(-0.5 -0.5)"/>
<polyline points="454.6,431.1 456,429 458.2,427.5 459.7,429 460.9,432.6 461.9,436.3 463.3,439.9 464.4,436.3 465.5,434.4 467.7,433.8 469.6,434.4 470.7,437.7 472.1,440.6 473.1,437.7 474,434.1 474.6,423.8 475,415.1 475.8,423.8 476.5,429.7 477.2,431.9 478.7,434.8 480.4,436.3 482.3,436.3 483.4,431.1 483.7,416.5 483.9,394.6 484.1,380 484.1,379.8 484.4,365.2 485.3,353.5 486.3,334.2 486.9,328.4 487.5,311.1 488.3,311.1 488.5,329.8 487.2,350.6 487.3,395.9 488.9,397.4 488.9,409.2 489.6,423.8 490.4,437 491.8,435.5 493.6,434.1 494.5,422.4 495.1,409.2 495.5,397.5 495.9,380 495.6,342.3 496.8,341.5 496.8,305 497.5,304.3 497.8,297.7 499.1,296.2 500.5,297.7 500.6,305 500.5,371.1 501.5,372.5 501.5,394.5 500.9,409.2 501.6,408.5 502.1,394.6 502.7,407.8 503.2,394.6 503.8,404.8 504.4,393.9 505.3,403.4 505.9,394.6 506.5,393.2 507.2,409.2 507.2,429.7 508.6,431.1 509.5,431.9 510.6,423.8 511.7,409.2 512.7,399 513.8,389.5 515,399 515.6,413.6 516.5,425.3 517.5,429.7 519,430.4 519.7,425.3 520.4,428.2 522.6,430.4 524.1,432.6 525.5,436.3 527.7,439.9 529.9,436.3 532.1,434.8 534.3,435.5 534.7,423.8 535,410.7 535.8,394.6 536.1,382.9 535.8,382.8 537.2,379.8 536.9,321.8 537.7,339.3 538,379.5 538.5,379.5 539,338.6 539,316 540.7,315.2 541.3,309.4 541.9,299.2 543.4,298.4 544.2,302.1 543.8,365.2 543.9,407.8 545.7,407.8 545.7,366 547,366 547,408.5 547.5,409.2 549.6,415.1 551.1,408.5 552.1,413.6 553.3,422.4 554.8,429 556.2,422.4 557,411.4 558.4,410.7 559.1,404.8 560.3,413.6 561.3,422.4 562.4,431.1 563.2,439.2 564.3,435.5 565.9,423.5 566.6,435.5 568.8,434.8 570.3,434.1 571.3,439.9 572.5,434.8 574.7,435.5 576.1,430.4 578,427.5 579,431.1 580.1,436.3 581.2,437.7 583.4,435.5 585.3,436.3 587.8,434.1 588.8,437.7 590.3,439.6 592.2,438.5 593.6,435.5 594.4,429.7 593.5,413.6 595.1,420.9 594.7,428.2 595.8,412.1 596.6,401.9 597.6,410.7 598.5,423.8 599.1,409.2 599.5,394.6 600.5,386.6 601.7,397.5 602.4,409.2 603.1,415.1 604.3,409.2 605.3,397.5 606.1,388.8 606.1,380 606.1,353.1 607.2,369.2 609,371.4 610.5,380 608,382 607.5,387 609.5,386 610.3,411 610.4,358 611.4,357 611.7,318 613.1,337 613.2,352" fill="none" stroke="#ff0000" stroke-width="1.1" stroke-linejoin="round" stroke-linecap="square" shape-rendering="crispEdges" transform="translate(0.5 -0.5)"/>
<polyline points="454.6,431.1 456,429 458.2,427.5 459.7,429 460.9,432.6 461.9,436.3 463.3,439.9 464.4,436.3 465.5,434.4 467.7,433.8 469.6,434.4 470.7,437.7 472.1,440.6 473.1,437.7 474,434.1 474.6,423.8 475,415.1 475.8,423.8 476.5,429.7 477.2,431.9 478.7,434.8 480.4,436.3 482.3,436.3 483.4,431.1 483.7,416.5 483.9,394.6 484.1,380 484.1,379.8 484.4,365.2 485.3,353.5 486.3,334.2 486.9,328.4 487.5,311.1 488.3,311.1 488.5,329.8 487.2,350.6 487.3,395.9 488.9,397.4 488.9,409.2 489.6,423.8 490.4,437 491.8,435.5 493.6,434.1 494.5,422.4 495.1,409.2 495.5,397.5 495.9,380 495.6,342.3 496.8,341.5 496.8,305 497.5,304.3 497.8,297.7 499.1,296.2 500.5,297.7 500.6,305 500.5,371.1 501.5,372.5 501.5,394.5 500.9,409.2 501.6,408.5 502.1,394.6 502.7,407.8 503.2,394.6 503.8,404.8 504.4,393.9 505.3,403.4 505.9,394.6 506.5,393.2 507.2,409.2 507.2,429.7 508.6,431.1 509.5,431.9 510.6,423.8 511.7,409.2 512.7,399 513.8,389.5 515,399 515.6,413.6 516.5,425.3 517.5,429.7 519,430.4 519.7,425.3 520.4,428.2 522.6,430.4 524.1,432.6 525.5,436.3 527.7,439.9 529.9,436.3 532.1,434.8 534.3,435.5 534.7,423.8 535,410.7 535.8,394.6 536.1,382.9 535.8,382.8 537.2,379.8 536.9,321.8 537.7,339.3 538,379.5 538.5,379.5 539,338.6 539,316 540.7,315.2 541.3,309.4 541.9,299.2 543.4,298.4 544.2,302.1 543.8,365.2 543.9,407.8 545.7,407.8 545.7,366 547,366 547,408.5 547.5,409.2 549.6,415.1 551.1,408.5 552.1,413.6 553.3,422.4 554.8,429 556.2,422.4 557,411.4 558.4,410.7 559.1,404.8 560.3,413.6 561.3,422.4 562.4,431.1 563.2,439.2 564.3,435.5 565.9,423.5 566.6,435.5 568.8,434.8 570.3,434.1 571.3,439.9 572.5,434.8 574.7,435.5 576.1,430.4 578,427.5 579,431.1 580.1,436.3 581.2,437.7 583.4,435.5 585.3,436.3 587.8,434.1 588.8,437.7 590.3,439.6 592.2,438.5 593.6,435.5 594.4,429.7 593.5,413.6 595.1,420.9 594.7,428.2 595.8,412.1 596.6,401.9 597.6,410.7 598.5,423.8 599.1,409.2 599.5,394.6 600.5,386.6 601.7,397.5 602.4,409.2 603.1,415.1 604.3,409.2 605.3,397.5 606.1,388.8 606.1,380 606.1,353.1 607.2,369.2 609,371.4 610.5,380 608,382 607.5,387 609.5,386 610.3,411 610.4,358 611.4,357 611.7,318 613.1,337 613.2,352" fill="none" stroke="#ff0000" stroke-width="1.1" stroke-linejoin="round" stroke-linecap="square" shape-rendering="crispEdges" transform="translate(-0.5 0.5)"/>
<polyline points="454.6,431.1 456,429 458.2,427.5 459.7,429 460.9,432.6 461.9,436.3 463.3,439.9 464.4,436.3 465.5,434.4 467.7,433.8 469.6,434.4 470.7,437.7 472.1,440.6 473.1,437.7 474,434.1 474.6,423.8 475,415.1 475.8,423.8 476.5,429.7 477.2,431.9 478.7,434.8 480.4,436.3 482.3,436.3 483.4,431.1 483.7,416.5 483.9,394.6 484.1,380 484.1,379.8 484.4,365.2 485.3,353.5 486.3,334.2 486.9,328.4 487.5,311.1 488.3,311.1 488.5,329.8 487.2,350.6 487.3,395.9 488.9,397.4 488.9,409.2 489.6,423.8 490.4,437 491.8,435.5 493.6,434.1 494.5,422.4 495.1,409.2 495.5,397.5 495.9,380 495.6,342.3 496.8,341.5 496.8,305 497.5,304.3 497.8,297.7 499.1,296.2 500.5,297.7 500.6,305 500.5,371.1 501.5,372.5 501.5,394.5 500.9,409.2 501.6,408.5 502.1,394.6 502.7,407.8 503.2,394.6 503.8,404.8 504.4,393.9 505.3,403.4 505.9,394.6 506.5,393.2 507.2,409.2 507.2,429.7 508.6,431.1 509.5,431.9 510.6,423.8 511.7,409.2 512.7,399 513.8,389.5 515,399 515.6,413.6 516.5,425.3 517.5,429.7 519,430.4 519.7,425.3 520.4,428.2 522.6,430.4 524.1,432.6 525.5,436.3 527.7,439.9 529.9,436.3 532.1,434.8 534.3,435.5 534.7,423.8 535,410.7 535.8,394.6 536.1,382.9 535.8,382.8 537.2,379.8 536.9,321.8 537.7,339.3 538,379.5 538.5,379.5 539,338.6 539,316 540.7,315.2 541.3,309.4 541.9,299.2 543.4,298.4 544.2,302.1 543.8,365.2 543.9,407.8 545.7,407.8 545.7,366 547,366 547,408.5 547.5,409.2 549.6,415.1 551.1,408.5 552.1,413.6 553.3,422.4 554.8,429 556.2,422.4 557,411.4 558.4,410.7 559.1,404.8 560.3,413.6 561.3,422.4 562.4,431.1 563.2,439.2 564.3,435.5 565.9,423.5 566.6,435.5 568.8,434.8 570.3,434.1 571.3,439.9 572.5,434.8 574.7,435.5 576.1,430.4 578,427.5 579,431.1 580.1,436.3 581.2,437.7 583.4,435.5 585.3,436.3 587.8,434.1 588.8,437.7 590.3,439.6 592.2,438.5 593.6,435.5 594.4,429.7 593.5,413.6 595.1,420.9 594.7,428.2 595.8,412.1 596.6,401.9 597.6,410.7 598.5,423.8 599.1,409.2 599.5,394.6 600.5,386.6 601.7,397.5 602.4,409.2 603.1,415.1 604.3,409.2 605.3,397.5 606.1,388.8 606.1,380 606.1,353.1 607.2,369.2 609,371.4 610.5,380 608,382 607.5,387 609.5,386 610.3,411 610.4,358 611.4,357 611.7,318 613.1,337 613.2,352" fill="none" stroke="#ff0000" stroke-width="1.1" stroke-linejoin="round" stroke-linecap="square" shape-rendering="crispEdges" transform="translate(0.5 0.5)"/>
<path fill="#000" shape-rendering="crispEdges" d="M23 67h2v1h-2zM22 68h1v1h-1zM24 68h1v1h-1zM24 69h1v1h-1zM24 70h1v1h-1zM24 71h1v1h-1zM24 72h1v1h-1zM24 73h1v1h-1zM28 67h3v1h-3zM27 68h1v1h-1zM31 68h1v1h-1zM27 69h1v1h-1zM31 69h1v1h-1zM27 70h1v1h-1zM31 70h1v1h-1zM27 71h1v1h-1zM31 71h1v1h-1zM27 72h1v1h-1zM31 72h1v1h-1zM28 73h3v1h-3zM34 67h3v1h-3zM33 68h1v1h-1zM37 68h1v1h-1zM33 69h1v1h-1zM37 69h1v1h-1zM33 70h1v1h-1zM37 70h1v1h-1zM33 71h1v1h-1zM37 71h1v1h-1zM33 72h1v1h-1zM37 72h1v1h-1zM34 73h3v1h-3zM29 84h2v1h-2zM28 85h1v1h-1zM31 85h1v1h-1zM28 86h1v1h-1zM31 86h1v1h-1zM28 87h1v1h-1zM31 87h1v1h-1zM29 88h3v1h-3zM31 89h1v1h-1zM28 90h3v1h-3zM34 84h3v1h-3zM33 85h1v1h-1zM37 85h1v1h-1zM33 86h1v1h-1zM37 86h1v1h-1zM33 87h1v1h-1zM37 87h1v1h-1zM33 88h1v1h-1zM37 88h1v1h-1zM33 89h1v1h-1zM37 89h1v1h-1zM34 90h3v1h-3zM29 100h2v1h-2zM28 101h1v1h-1zM31 101h1v1h-1zM28 102h1v1h-1zM31 102h1v1h-1zM29 103h2v1h-2zM28 104h1v1h-1zM31 104h1v1h-1zM28 105h1v1h-1zM31 105h1v1h-1zM29 106h2v1h-2zM34 100h3v1h-3zM33 101h1v1h-1zM37 101h1v1h-1zM33 102h1v1h-1zM37 102h1v1h-1zM33 103h1v1h-1zM37 103h1v1h-1zM33 104h1v1h-1zM37 104h1v1h-1zM33 105h1v1h-1zM37 105h1v1h-1zM34 106h3v1h-3zM27 116h5v1h-5zM31 117h1v1h-1zM30 118h1v1h-1zM30 119h1v1h-1zM29 120h1v1h-1zM29 121h1v1h-1zM28 122h1v1h-1zM34 116h3v1h-3zM33 117h1v1h-1zM37 117h1v1h-1zM33 118h1v1h-1zM37 118h1v1h-1zM33 119h1v1h-1zM37 119h1v1h-1zM33 120h1v1h-1zM37 120h1v1h-1zM33 121h1v1h-1zM37 121h1v1h-1zM34 122h3v1h-3zM29 133h3v1h-3zM28 134h1v1h-1zM28 135h1v1h-1zM28 136h3v1h-3zM28 137h1v1h-1zM31 137h1v1h-1zM28 138h1v1h-1zM31 138h1v1h-1zM29 139h2v1h-2zM34 133h3v1h-3zM33 134h1v1h-1zM37 134h1v1h-1zM33 135h1v1h-1zM37 135h1v1h-1zM33 136h1v1h-1zM37 136h1v1h-1zM33 137h1v1h-1zM37 137h1v1h-1zM33 138h1v1h-1zM37 138h1v1h-1zM34 139h3v1h-3zM28 150h4v1h-4zM28 151h1v1h-1zM28 152h3v1h-3zM31 153h1v1h-1zM31 154h1v1h-1zM27 155h1v1h-1zM31 155h1v1h-1zM28 156h3v1h-3zM34 150h3v1h-3zM33 151h1v1h-1zM37 151h1v1h-1zM33 152h1v1h-1zM37 152h1v1h-1zM33 153h1v1h-1zM37 153h1v1h-1zM33 154h1v1h-1zM37 154h1v1h-1zM33 155h1v1h-1zM37 155h1v1h-1zM34 156h3v1h-3zM30 166h1v1h-1zM29 167h1v1h-1zM28 168h1v1h-1zM30 168h1v1h-1zM27 169h1v1h-1zM30 169h1v1h-1zM27 170h5v1h-5zM30 171h1v1h-1zM30 172h1v1h-1zM34 166h3v1h-3zM33 167h1v1h-1zM37 167h1v1h-1zM33 168h1v1h-1zM37 168h1v1h-1zM33 169h1v1h-1zM37 169h1v1h-1zM33 170h1v1h-1zM37 170h1v1h-1zM33 171h1v1h-1zM37 171h1v1h-1zM34 172h3v1h-3zM28 182h3v1h-3zM27 183h1v1h-1zM31 183h1v1h-1zM31 184h1v1h-1zM29 185h2v1h-2zM31 186h1v1h-1zM27 187h1v1h-1zM31 187h1v1h-1zM28 188h3v1h-3zM34 182h3v1h-3zM33 183h1v1h-1zM37 183h1v1h-1zM33 184h1v1h-1zM37 184h1v1h-1zM33 185h1v1h-1zM37 185h1v1h-1zM33 186h1v1h-1zM37 186h1v1h-1zM33 187h1v1h-1zM37 187h1v1h-1zM34 188h3v1h-3zM29 199h2v1h-2zM28 200h1v1h-1zM31 200h1v1h-1zM31 201h1v1h-1zM30 202h1v1h-1zM29 203h1v1h-1zM28 204h1v1h-1zM28 205h4v1h-4zM34 199h3v1h-3zM33 200h1v1h-1zM37 200h1v1h-1zM33 201h1v1h-1zM37 201h1v1h-1zM33 202h1v1h-1zM37 202h1v1h-1zM33 203h1v1h-1zM37 203h1v1h-1zM33 204h1v1h-1zM37 204h1v1h-1zM34 205h3v1h-3zM29 216h2v1h-2zM28 217h1v1h-1zM30 217h1v1h-1zM30 218h1v1h-1zM30 219h1v1h-1zM30 220h1v1h-1zM30 221h1v1h-1zM30 222h1v1h-1zM34 216h3v1h-3zM33 217h1v1h-1zM37 217h1v1h-1zM33 218h1v1h-1zM37 218h1v1h-1zM33 219h1v1h-1zM37 219h1v1h-1zM33 220h1v1h-1zM37 220h1v1h-1zM33 221h1v1h-1zM37 221h1v1h-1zM34 222h3v1h-3zM34 232h3v1h-3zM33 233h1v1h-1zM37 233h1v1h-1zM33 234h1v1h-1zM37 234h1v1h-1zM33 235h1v1h-1zM37 235h1v1h-1zM33 236h1v1h-1zM37 236h1v1h-1zM33 237h1v1h-1zM37 237h1v1h-1zM34 238h3v1h-3zM59 238h2v1h-2zM58 239h1v1h-1zM60 239h1v1h-1zM60 240h1v1h-1zM60 241h1v1h-1zM60 242h1v1h-1zM60 243h1v1h-1zM60 244h1v1h-1zM65 238h2v1h-2zM64 239h1v1h-1zM67 239h1v1h-1zM64 240h1v1h-1zM67 240h1v1h-1zM65 241h2v1h-2zM64 242h1v1h-1zM67 242h1v1h-1zM64 243h1v1h-1zM67 243h1v1h-1zM65 244h2v1h-2zM70 242h4v1h-4zM76 238h3v1h-3zM75 239h1v1h-1zM79 239h1v1h-1zM75 240h1v1h-1zM79 240h1v1h-1zM75 241h1v1h-1zM79 241h1v1h-1zM75 242h1v1h-1zM79 242h1v1h-1zM75 243h1v1h-1zM79 243h1v1h-1zM76 244h3v1h-3zM81 238h5v1h-5zM85 239h1v1h-1zM84 240h1v1h-1zM84 241h1v1h-1zM83 242h1v1h-1zM83 243h1v1h-1zM82 244h1v1h-1zM96 238h2v1h-2zM95 239h1v1h-1zM98 239h1v1h-1zM98 240h1v1h-1zM97 241h1v1h-1zM96 242h1v1h-1zM95 243h1v1h-1zM95 244h4v1h-4zM102 238h2v1h-2zM101 239h1v1h-1zM104 239h1v1h-1zM104 240h1v1h-1zM103 241h1v1h-1zM102 242h1v1h-1zM101 243h1v1h-1zM101 244h4v1h-4zM107 242h4v1h-4zM113 238h3v1h-3zM112 239h1v1h-1zM116 239h1v1h-1zM112 240h1v1h-1zM116 240h1v1h-1zM112 241h1v1h-1zM116 241h1v1h-1zM112 242h1v1h-1zM116 242h1v1h-1zM112 243h1v1h-1zM116 243h1v1h-1zM113 244h3v1h-3zM118 238h5v1h-5zM122 239h1v1h-1zM121 240h1v1h-1zM121 241h1v1h-1zM120 242h1v1h-1zM120 243h1v1h-1zM119 244h1v1h-1zM133 238h2v1h-2zM132 239h1v1h-1zM135 239h1v1h-1zM135 240h1v1h-1zM134 241h1v1h-1zM133 242h1v1h-1zM132 243h1v1h-1zM132 244h4v1h-4zM139 238h3v1h-3zM138 239h1v1h-1zM138 240h1v1h-1zM138 241h3v1h-3zM138 242h1v1h-1zM141 242h1v1h-1zM138 243h1v1h-1zM141 243h1v1h-1zM139 244h2v1h-2zM144 242h4v1h-4zM150 238h3v1h-3zM149 239h1v1h-1zM153 239h1v1h-1zM149 240h1v1h-1zM153 240h1v1h-1zM149 241h1v1h-1zM153 241h1v1h-1zM149 242h1v1h-1zM153 242h1v1h-1zM149 243h1v1h-1zM153 243h1v1h-1zM150 244h3v1h-3zM155 238h5v1h-5zM159 239h1v1h-1zM158 240h1v1h-1zM158 241h1v1h-1zM157 242h1v1h-1zM157 243h1v1h-1zM156 244h1v1h-1zM168 238h3v1h-3zM167 239h1v1h-1zM171 239h1v1h-1zM171 240h1v1h-1zM169 241h2v1h-2zM171 242h1v1h-1zM167 243h1v1h-1zM171 243h1v1h-1zM168 244h3v1h-3zM174 238h3v1h-3zM173 239h1v1h-1zM177 239h1v1h-1zM173 240h1v1h-1zM177 240h1v1h-1zM173 241h1v1h-1zM177 241h1v1h-1zM173 242h1v1h-1zM177 242h1v1h-1zM173 243h1v1h-1zM177 243h1v1h-1zM174 244h3v1h-3zM180 242h4v1h-4zM186 238h3v1h-3zM185 239h1v1h-1zM189 239h1v1h-1zM185 240h1v1h-1zM189 240h1v1h-1zM185 241h1v1h-1zM189 241h1v1h-1zM185 242h1v1h-1zM189 242h1v1h-1zM185 243h1v1h-1zM189 243h1v1h-1zM186 244h3v1h-3zM191 238h5v1h-5zM195 239h1v1h-1zM194 240h1v1h-1zM194 241h1v1h-1zM193 242h1v1h-1zM193 243h1v1h-1zM192 244h1v1h-1zM205 238h3v1h-3zM204 239h1v1h-1zM208 239h1v1h-1zM204 240h1v1h-1zM208 240h1v1h-1zM204 241h1v1h-1zM208 241h1v1h-1zM204 242h1v1h-1zM208 242h1v1h-1zM204 243h1v1h-1zM208 243h1v1h-1zM205 244h3v1h-3zM211 238h3v1h-3zM210 239h1v1h-1zM214 239h1v1h-1zM214 240h1v1h-1zM212 241h2v1h-2zM214 242h1v1h-1zM210 243h1v1h-1zM214 243h1v1h-1zM211 244h3v1h-3zM217 242h4v1h-4zM223 238h3v1h-3zM222 239h1v1h-1zM226 239h1v1h-1zM222 240h1v1h-1zM226 240h1v1h-1zM222 241h1v1h-1zM226 241h1v1h-1zM222 242h1v1h-1zM226 242h1v1h-1zM222 243h1v1h-1zM226 243h1v1h-1zM223 244h3v1h-3zM230 238h2v1h-2zM229 239h1v1h-1zM232 239h1v1h-1zM229 240h1v1h-1zM232 240h1v1h-1zM230 241h2v1h-2zM229 242h1v1h-1zM232 242h1v1h-1zM229 243h1v1h-1zM232 243h1v1h-1zM230 244h2v1h-2zM242 238h3v1h-3zM241 239h1v1h-1zM245 239h1v1h-1zM241 240h1v1h-1zM245 240h1v1h-1zM241 241h1v1h-1zM245 241h1v1h-1zM241 242h1v1h-1zM245 242h1v1h-1zM241 243h1v1h-1zM245 243h1v1h-1zM242 244h3v1h-3zM247 238h5v1h-5zM251 239h1v1h-1zM250 240h1v1h-1zM250 241h1v1h-1zM249 242h1v1h-1zM249 243h1v1h-1zM248 244h1v1h-1zM254 242h4v1h-4zM260 238h3v1h-3zM259 239h1v1h-1zM263 239h1v1h-1zM259 240h1v1h-1zM263 240h1v1h-1zM259 241h1v1h-1zM263 241h1v1h-1zM259 242h1v1h-1zM263 242h1v1h-1zM259 243h1v1h-1zM263 243h1v1h-1zM260 244h3v1h-3zM267 238h2v1h-2zM266 239h1v1h-1zM269 239h1v1h-1zM266 240h1v1h-1zM269 240h1v1h-1zM267 241h2v1h-2zM266 242h1v1h-1zM269 242h1v1h-1zM266 243h1v1h-1zM269 243h1v1h-1zM267 244h2v1h-2zM279 238h2v1h-2zM278 239h1v1h-1zM280 239h1v1h-1zM280 240h1v1h-1zM280 241h1v1h-1zM280 242h1v1h-1zM280 243h1v1h-1zM280 244h1v1h-1zM285 238h2v1h-2zM284 239h1v1h-1zM286 239h1v1h-1zM286 240h1v1h-1zM286 241h1v1h-1zM286 242h1v1h-1zM286 243h1v1h-1zM286 244h1v1h-1zM290 242h4v1h-4zM296 238h3v1h-3zM295 239h1v1h-1zM299 239h1v1h-1zM295 240h1v1h-1zM299 240h1v1h-1zM295 241h1v1h-1zM299 241h1v1h-1zM295 242h1v1h-1zM299 242h1v1h-1zM295 243h1v1h-1zM299 243h1v1h-1zM296 244h3v1h-3zM303 238h2v1h-2zM302 239h1v1h-1zM305 239h1v1h-1zM302 240h1v1h-1zM305 240h1v1h-1zM303 241h2v1h-2zM302 242h1v1h-1zM305 242h1v1h-1zM302 243h1v1h-1zM305 243h1v1h-1zM303 244h2v1h-2zM345 67h2v1h-2zM344 68h1v1h-1zM347 68h1v1h-1zM347 69h1v1h-1zM346 70h1v1h-1zM345 71h1v1h-1zM344 72h1v1h-1zM344 73h4v1h-4zM350 67h4v1h-4zM350 68h1v1h-1zM350 69h3v1h-3zM353 70h1v1h-1zM353 71h1v1h-1zM349 72h1v1h-1zM353 72h1v1h-1zM350 73h3v1h-3zM345 100h2v1h-2zM344 101h1v1h-1zM347 101h1v1h-1zM347 102h1v1h-1zM346 103h1v1h-1zM345 104h1v1h-1zM344 105h1v1h-1zM344 106h4v1h-4zM350 100h3v1h-3zM349 101h1v1h-1zM353 101h1v1h-1zM349 102h1v1h-1zM353 102h1v1h-1zM349 103h1v1h-1zM353 103h1v1h-1zM349 104h1v1h-1zM353 104h1v1h-1zM349 105h1v1h-1zM353 105h1v1h-1zM350 106h3v1h-3zM345 133h2v1h-2zM344 134h1v1h-1zM346 134h1v1h-1zM346 135h1v1h-1zM346 136h1v1h-1zM346 137h1v1h-1zM346 138h1v1h-1zM346 139h1v1h-1zM350 133h4v1h-4zM350 134h1v1h-1zM350 135h3v1h-3zM353 136h1v1h-1zM353 137h1v1h-1zM349 138h1v1h-1zM353 138h1v1h-1zM350 139h3v1h-3zM345 166h2v1h-2zM344 167h1v1h-1zM346 167h1v1h-1zM346 168h1v1h-1zM346 169h1v1h-1zM346 170h1v1h-1zM346 171h1v1h-1zM346 172h1v1h-1zM350 166h3v1h-3zM349 167h1v1h-1zM353 167h1v1h-1zM349 168h1v1h-1zM353 168h1v1h-1zM349 169h1v1h-1zM353 169h1v1h-1zM349 170h1v1h-1zM353 170h1v1h-1zM349 171h1v1h-1zM353 171h1v1h-1zM350 172h3v1h-3zM350 199h4v1h-4zM350 200h1v1h-1zM350 201h3v1h-3zM353 202h1v1h-1zM353 203h1v1h-1zM349 204h1v1h-1zM353 204h1v1h-1zM350 205h3v1h-3zM350 232h3v1h-3zM349 233h1v1h-1zM353 233h1v1h-1zM349 234h1v1h-1zM353 234h1v1h-1zM349 235h1v1h-1zM353 235h1v1h-1zM349 236h1v1h-1zM353 236h1v1h-1zM349 237h1v1h-1zM353 237h1v1h-1zM350 238h3v1h-3zM375 238h2v1h-2zM374 239h1v1h-1zM376 239h1v1h-1zM376 240h1v1h-1zM376 241h1v1h-1zM376 242h1v1h-1zM376 243h1v1h-1zM376 244h1v1h-1zM381 238h2v1h-2zM380 239h1v1h-1zM383 239h1v1h-1zM380 240h1v1h-1zM383 240h1v1h-1zM381 241h2v1h-2zM380 242h1v1h-1zM383 242h1v1h-1zM380 243h1v1h-1zM383 243h1v1h-1zM381 244h2v1h-2zM386 242h4v1h-4zM392 238h3v1h-3zM391 239h1v1h-1zM395 239h1v1h-1zM391 240h1v1h-1zM395 240h1v1h-1zM391 241h1v1h-1zM395 241h1v1h-1zM391 242h1v1h-1zM395 242h1v1h-1zM391 243h1v1h-1zM395 243h1v1h-1zM392 244h3v1h-3zM397 238h5v1h-5zM401 239h1v1h-1zM400 240h1v1h-1zM400 241h1v1h-1zM399 242h1v1h-1zM399 243h1v1h-1zM398 244h1v1h-1zM412 238h2v1h-2zM411 239h1v1h-1zM414 239h1v1h-1zM414 240h1v1h-1zM413 241h1v1h-1zM412 242h1v1h-1zM411 243h1v1h-1zM411 244h4v1h-4zM418 238h2v1h-2zM417 239h1v1h-1zM420 239h1v1h-1zM420 240h1v1h-1zM419 241h1v1h-1zM418 242h1v1h-1zM417 243h1v1h-1zM417 244h4v1h-4zM423 242h4v1h-4zM429 238h3v1h-3zM428 239h1v1h-1zM432 239h1v1h-1zM428 240h1v1h-1zM432 240h1v1h-1zM428 241h1v1h-1zM432 241h1v1h-1zM428 242h1v1h-1zM432 242h1v1h-1zM428 243h1v1h-1zM432 243h1v1h-1zM429 244h3v1h-3zM434 238h5v1h-5zM438 239h1v1h-1zM437 240h1v1h-1zM437 241h1v1h-1zM436 242h1v1h-1zM436 243h1v1h-1zM435 244h1v1h-1zM449 238h2v1h-2zM448 239h1v1h-1zM451 239h1v1h-1zM451 240h1v1h-1zM450 241h1v1h-1zM449 242h1v1h-1zM448 243h1v1h-1zM448 244h4v1h-4zM455 238h3v1h-3zM454 239h1v1h-1zM454 240h1v1h-1zM454 241h3v1h-3zM454 242h1v1h-1zM457 242h1v1h-1zM454 243h1v1h-1zM457 243h1v1h-1zM455 244h2v1h-2zM460 242h4v1h-4zM466 238h3v1h-3zM465 239h1v1h-1zM469 239h1v1h-1zM465 240h1v1h-1zM469 240h1v1h-1zM465 241h1v1h-1zM469 241h1v1h-1zM465 242h1v1h-1zM469 242h1v1h-1zM465 243h1v1h-1zM469 243h1v1h-1zM466 244h3v1h-3zM471 238h5v1h-5zM475 239h1v1h-1zM474 240h1v1h-1zM474 241h1v1h-1zM473 242h1v1h-1zM473 243h1v1h-1zM472 244h1v1h-1zM484 238h3v1h-3zM483 239h1v1h-1zM487 239h1v1h-1zM487 240h1v1h-1zM485 241h2v1h-2zM487 242h1v1h-1zM483 243h1v1h-1zM487 243h1v1h-1zM484 244h3v1h-3zM490 238h3v1h-3zM489 239h1v1h-1zM493 239h1v1h-1zM489 240h1v1h-1zM493 240h1v1h-1zM489 241h1v1h-1zM493 241h1v1h-1zM489 242h1v1h-1zM493 242h1v1h-1zM489 243h1v1h-1zM493 243h1v1h-1zM490 244h3v1h-3zM496 242h4v1h-4zM502 238h3v1h-3zM501 239h1v1h-1zM505 239h1v1h-1zM501 240h1v1h-1zM505 240h1v1h-1zM501 241h1v1h-1zM505 241h1v1h-1zM501 242h1v1h-1zM505 242h1v1h-1zM501 243h1v1h-1zM505 243h1v1h-1zM502 244h3v1h-3zM507 238h5v1h-5zM511 239h1v1h-1zM510 240h1v1h-1zM510 241h1v1h-1zM509 242h1v1h-1zM509 243h1v1h-1zM508 244h1v1h-1zM521 238h3v1h-3zM520 239h1v1h-1zM524 239h1v1h-1zM520 240h1v1h-1zM524 240h1v1h-1zM520 241h1v1h-1zM524 241h1v1h-1zM520 242h1v1h-1zM524 242h1v1h-1zM520 243h1v1h-1zM524 243h1v1h-1zM521 244h3v1h-3zM527 238h3v1h-3zM526 239h1v1h-1zM530 239h1v1h-1zM530 240h1v1h-1zM528 241h2v1h-2zM530 242h1v1h-1zM526 243h1v1h-1zM530 243h1v1h-1zM527 244h3v1h-3zM533 242h4v1h-4zM539 238h3v1h-3zM538 239h1v1h-1zM542 239h1v1h-1zM538 240h1v1h-1zM542 240h1v1h-1zM538 241h1v1h-1zM542 241h1v1h-1zM538 242h1v1h-1zM542 242h1v1h-1zM538 243h1v1h-1zM542 243h1v1h-1zM539 244h3v1h-3zM546 238h2v1h-2zM545 239h1v1h-1zM548 239h1v1h-1zM545 240h1v1h-1zM548 240h1v1h-1zM546 241h2v1h-2zM545 242h1v1h-1zM548 242h1v1h-1zM545 243h1v1h-1zM548 243h1v1h-1zM546 244h2v1h-2zM558 238h3v1h-3zM557 239h1v1h-1zM561 239h1v1h-1zM557 240h1v1h-1zM561 240h1v1h-1zM557 241h1v1h-1zM561 241h1v1h-1zM557 242h1v1h-1zM561 242h1v1h-1zM557 243h1v1h-1zM561 243h1v1h-1zM558 244h3v1h-3zM563 238h5v1h-5zM567 239h1v1h-1zM566 240h1v1h-1zM566 241h1v1h-1zM565 242h1v1h-1zM565 243h1v1h-1zM564 244h1v1h-1zM570 242h4v1h-4zM576 238h3v1h-3zM575 239h1v1h-1zM579 239h1v1h-1zM575 240h1v1h-1zM579 240h1v1h-1zM575 241h1v1h-1zM579 241h1v1h-1zM575 242h1v1h-1zM579 242h1v1h-1zM575 243h1v1h-1zM579 243h1v1h-1zM576 244h3v1h-3zM583 238h2v1h-2zM582 239h1v1h-1zM585 239h1v1h-1zM582 240h1v1h-1zM585 240h1v1h-1zM583 241h2v1h-2zM582 242h1v1h-1zM585 242h1v1h-1zM582 243h1v1h-1zM585 243h1v1h-1zM583 244h2v1h-2zM595 238h2v1h-2zM594 239h1v1h-1zM596 239h1v1h-1zM596 240h1v1h-1zM596 241h1v1h-1zM596 242h1v1h-1zM596 243h1v1h-1zM596 244h1v1h-1zM601 238h2v1h-2zM600 239h1v1h-1zM602 239h1v1h-1zM602 240h1v1h-1zM602 241h1v1h-1zM602 242h1v1h-1zM602 243h1v1h-1zM602 244h1v1h-1zM606 242h4v1h-4zM612 238h3v1h-3zM611 239h1v1h-1zM615 239h1v1h-1zM611 240h1v1h-1zM615 240h1v1h-1zM611 241h1v1h-1zM615 241h1v1h-1zM611 242h1v1h-1zM615 242h1v1h-1zM611 243h1v1h-1zM615 243h1v1h-1zM612 244h3v1h-3zM619 238h2v1h-2zM618 239h1v1h-1zM621 239h1v1h-1zM618 240h1v1h-1zM621 240h1v1h-1zM619 241h2v1h-2zM618 242h1v1h-1zM621 242h1v1h-1zM618 243h1v1h-1zM621 243h1v1h-1zM619 244h2v1h-2zM23 279h2v1h-2zM22 280h1v1h-1zM25 280h1v1h-1zM22 281h1v1h-1zM25 281h1v1h-1zM22 282h1v1h-1zM25 282h1v1h-1zM23 283h3v1h-3zM25 284h1v1h-1zM22 285h3v1h-3zM28 279h3v1h-3zM27 280h1v1h-1zM31 280h1v1h-1zM31 281h1v1h-1zM29 282h2v1h-2zM31 283h1v1h-1zM27 284h1v1h-1zM31 284h1v1h-1zM28 285h3v1h-3zM34 279h3v1h-3zM33 280h1v1h-1zM37 280h1v1h-1zM33 281h1v1h-1zM37 281h1v1h-1zM33 282h1v1h-1zM37 282h1v1h-1zM33 283h1v1h-1zM37 283h1v1h-1zM33 284h1v1h-1zM37 284h1v1h-1zM34 285h3v1h-3zM23 306h2v1h-2zM22 307h1v1h-1zM25 307h1v1h-1zM22 308h1v1h-1zM25 308h1v1h-1zM22 309h1v1h-1zM25 309h1v1h-1zM23 310h3v1h-3zM25 311h1v1h-1zM22 312h3v1h-3zM29 306h2v1h-2zM28 307h1v1h-1zM31 307h1v1h-1zM31 308h1v1h-1zM30 309h1v1h-1zM29 310h1v1h-1zM28 311h1v1h-1zM28 312h4v1h-4zM34 306h3v1h-3zM33 307h1v1h-1zM37 307h1v1h-1zM33 308h1v1h-1zM37 308h1v1h-1zM33 309h1v1h-1zM37 309h1v1h-1zM33 310h1v1h-1zM37 310h1v1h-1zM33 311h1v1h-1zM37 311h1v1h-1zM34 312h3v1h-3zM23 334h2v1h-2zM22 335h1v1h-1zM25 335h1v1h-1zM22 336h1v1h-1zM25 336h1v1h-1zM22 337h1v1h-1zM25 337h1v1h-1zM23 338h3v1h-3zM25 339h1v1h-1zM22 340h3v1h-3zM29 334h2v1h-2zM28 335h1v1h-1zM30 335h1v1h-1zM30 336h1v1h-1zM30 337h1v1h-1zM30 338h1v1h-1zM30 339h1v1h-1zM30 340h1v1h-1zM34 334h3v1h-3zM33 335h1v1h-1zM37 335h1v1h-1zM33 336h1v1h-1zM37 336h1v1h-1zM33 337h1v1h-1zM37 337h1v1h-1zM33 338h1v1h-1zM37 338h1v1h-1zM33 339h1v1h-1zM37 339h1v1h-1zM34 340h3v1h-3zM23 362h2v1h-2zM22 363h1v1h-1zM25 363h1v1h-1zM22 364h1v1h-1zM25 364h1v1h-1zM22 365h1v1h-1zM25 365h1v1h-1zM23 366h3v1h-3zM25 367h1v1h-1zM22 368h3v1h-3zM28 362h3v1h-3zM27 363h1v1h-1zM31 363h1v1h-1zM27 364h1v1h-1zM31 364h1v1h-1zM27 365h1v1h-1zM31 365h1v1h-1zM27 366h1v1h-1zM31 366h1v1h-1zM27 367h1v1h-1zM31 367h1v1h-1zM28 368h3v1h-3zM34 362h3v1h-3zM33 363h1v1h-1zM37 363h1v1h-1zM33 364h1v1h-1zM37 364h1v1h-1zM33 365h1v1h-1zM37 365h1v1h-1zM33 366h1v1h-1zM37 366h1v1h-1zM33 367h1v1h-1zM37 367h1v1h-1zM34 368h3v1h-3zM23 389h2v1h-2zM22 390h1v1h-1zM25 390h1v1h-1zM22 391h1v1h-1zM25 391h1v1h-1zM23 392h2v1h-2zM22 393h1v1h-1zM25 393h1v1h-1zM22 394h1v1h-1zM25 394h1v1h-1zM23 395h2v1h-2zM29 389h2v1h-2zM28 390h1v1h-1zM31 390h1v1h-1zM28 391h1v1h-1zM31 391h1v1h-1zM28 392h1v1h-1zM31 392h1v1h-1zM29 393h3v1h-3zM31 394h1v1h-1zM28 395h3v1h-3zM34 389h3v1h-3zM33 390h1v1h-1zM37 390h1v1h-1zM33 391h1v1h-1zM37 391h1v1h-1zM33 392h1v1h-1zM37 392h1v1h-1zM33 393h1v1h-1zM37 393h1v1h-1zM33 394h1v1h-1zM37 394h1v1h-1zM34 395h3v1h-3zM23 416h2v1h-2zM22 417h1v1h-1zM25 417h1v1h-1zM22 418h1v1h-1zM25 418h1v1h-1zM23 419h2v1h-2zM22 420h1v1h-1zM25 420h1v1h-1zM22 421h1v1h-1zM25 421h1v1h-1zM23 422h2v1h-2zM29 416h2v1h-2zM28 417h1v1h-1zM31 417h1v1h-1zM28 418h1v1h-1zM31 418h1v1h-1zM29 419h2v1h-2zM28 420h1v1h-1zM31 420h1v1h-1zM28 421h1v1h-1zM31 421h1v1h-1zM29 422h2v1h-2zM34 416h3v1h-3zM33 417h1v1h-1zM37 417h1v1h-1zM33 418h1v1h-1zM37 418h1v1h-1zM33 419h1v1h-1zM37 419h1v1h-1zM33 420h1v1h-1zM37 420h1v1h-1zM33 421h1v1h-1zM37 421h1v1h-1zM34 422h3v1h-3zM23 444h2v1h-2zM22 445h1v1h-1zM25 445h1v1h-1zM22 446h1v1h-1zM25 446h1v1h-1zM23 447h2v1h-2zM22 448h1v1h-1zM25 448h1v1h-1zM22 449h1v1h-1zM25 449h1v1h-1zM23 450h2v1h-2zM27 444h5v1h-5zM31 445h1v1h-1zM30 446h1v1h-1zM30 447h1v1h-1zM29 448h1v1h-1zM29 449h1v1h-1zM28 450h1v1h-1zM34 444h3v1h-3zM33 445h1v1h-1zM37 445h1v1h-1zM33 446h1v1h-1zM37 446h1v1h-1zM33 447h1v1h-1zM37 447h1v1h-1zM33 448h1v1h-1zM37 448h1v1h-1zM33 449h1v1h-1zM37 449h1v1h-1zM34 450h3v1h-3zM59 450h2v1h-2zM58 451h1v1h-1zM60 451h1v1h-1zM60 452h1v1h-1zM60 453h1v1h-1zM60 454h1v1h-1zM60 455h1v1h-1zM60 456h1v1h-1zM65 450h2v1h-2zM64 451h1v1h-1zM67 451h1v1h-1zM64 452h1v1h-1zM67 452h1v1h-1zM65 453h2v1h-2zM64 454h1v1h-1zM67 454h1v1h-1zM64 455h1v1h-1zM67 455h1v1h-1zM65 456h2v1h-2zM70 454h4v1h-4zM76 450h3v1h-3zM75 451h1v1h-1zM79 451h1v1h-1zM75 452h1v1h-1zM79 452h1v1h-1zM75 453h1v1h-1zM79 453h1v1h-1zM75 454h1v1h-1zM79 454h1v1h-1zM75 455h1v1h-1zM79 455h1v1h-1zM76 456h3v1h-3zM81 450h5v1h-5zM85 451h1v1h-1zM84 452h1v1h-1zM84 453h1v1h-1zM83 454h1v1h-1zM83 455h1v1h-1zM82 456h1v1h-1zM96 450h2v1h-2zM95 451h1v1h-1zM98 451h1v1h-1zM98 452h1v1h-1zM97 453h1v1h-1zM96 454h1v1h-1zM95 455h1v1h-1zM95 456h4v1h-4zM102 450h2v1h-2zM101 451h1v1h-1zM104 451h1v1h-1zM104 452h1v1h-1zM103 453h1v1h-1zM102 454h1v1h-1zM101 455h1v1h-1zM101 456h4v1h-4zM107 454h4v1h-4zM113 450h3v1h-3zM112 451h1v1h-1zM116 451h1v1h-1zM112 452h1v1h-1zM116 452h1v1h-1zM112 453h1v1h-1zM116 453h1v1h-1zM112 454h1v1h-1zM116 454h1v1h-1zM112 455h1v1h-1zM116 455h1v1h-1zM113 456h3v1h-3zM118 450h5v1h-5zM122 451h1v1h-1zM121 452h1v1h-1zM121 453h1v1h-1zM120 454h1v1h-1zM120 455h1v1h-1zM119 456h1v1h-1zM133 450h2v1h-2zM132 451h1v1h-1zM135 451h1v1h-1zM135 452h1v1h-1zM134 453h1v1h-1zM133 454h1v1h-1zM132 455h1v1h-1zM132 456h4v1h-4zM139 450h3v1h-3zM138 451h1v1h-1zM138 452h1v1h-1zM138 453h3v1h-3zM138 454h1v1h-1zM141 454h1v1h-1zM138 455h1v1h-1zM141 455h1v1h-1zM139 456h2v1h-2zM144 454h4v1h-4zM150 450h3v1h-3zM149 451h1v1h-1zM153 451h1v1h-1zM149 452h1v1h-1zM153 452h1v1h-1zM149 453h1v1h-1zM153 453h1v1h-1zM149 454h1v1h-1zM153 454h1v1h-1zM149 455h1v1h-1zM153 455h1v1h-1zM150 456h3v1h-3zM155 450h5v1h-5zM159 451h1v1h-1zM158 452h1v1h-1zM158 453h1v1h-1zM157 454h1v1h-1zM157 455h1v1h-1zM156 456h1v1h-1zM168 450h3v1h-3zM167 451h1v1h-1zM171 451h1v1h-1zM171 452h1v1h-1zM169 453h2v1h-2zM171 454h1v1h-1zM167 455h1v1h-1zM171 455h1v1h-1zM168 456h3v1h-3zM174 450h3v1h-3zM173 451h1v1h-1zM177 451h1v1h-1zM173 452h1v1h-1zM177 452h1v1h-1zM173 453h1v1h-1zM177 453h1v1h-1zM173 454h1v1h-1zM177 454h1v1h-1zM173 455h1v1h-1zM177 455h1v1h-1zM174 456h3v1h-3zM180 454h4v1h-4zM186 450h3v1h-3zM185 451h1v1h-1zM189 451h1v1h-1zM185 452h1v1h-1zM189 452h1v1h-1zM185 453h1v1h-1zM189 453h1v1h-1zM185 454h1v1h-1zM189 454h1v1h-1zM185 455h1v1h-1zM189 455h1v1h-1zM186 456h3v1h-3zM191 450h5v1h-5zM195 451h1v1h-1zM194 452h1v1h-1zM194 453h1v1h-1zM193 454h1v1h-1zM193 455h1v1h-1zM192 456h1v1h-1zM205 450h3v1h-3zM204 451h1v1h-1zM208 451h1v1h-1zM204 452h1v1h-1zM208 452h1v1h-1zM204 453h1v1h-1zM208 453h1v1h-1zM204 454h1v1h-1zM208 454h1v1h-1zM204 455h1v1h-1zM208 455h1v1h-1zM205 456h3v1h-3zM211 450h3v1h-3zM210 451h1v1h-1zM214 451h1v1h-1zM214 452h1v1h-1zM212 453h2v1h-2zM214 454h1v1h-1zM210 455h1v1h-1zM214 455h1v1h-1zM211 456h3v1h-3zM217 454h4v1h-4zM223 450h3v1h-3zM222 451h1v1h-1zM226 451h1v1h-1zM222 452h1v1h-1zM226 452h1v1h-1zM222 453h1v1h-1zM226 453h1v1h-1zM222 454h1v1h-1zM226 454h1v1h-1zM222 455h1v1h-1zM226 455h1v1h-1zM223 456h3v1h-3zM230 450h2v1h-2zM229 451h1v1h-1zM232 451h1v1h-1zM229 452h1v1h-1zM232 452h1v1h-1zM230 453h2v1h-2zM229 454h1v1h-1zM232 454h1v1h-1zM229 455h1v1h-1zM232 455h1v1h-1zM230 456h2v1h-2zM242 450h3v1h-3zM241 451h1v1h-1zM245 451h1v1h-1zM241 452h1v1h-1zM245 452h1v1h-1zM241 453h1v1h-1zM245 453h1v1h-1zM241 454h1v1h-1zM245 454h1v1h-1zM241 455h1v1h-1zM245 455h1v1h-1zM242 456h3v1h-3zM247 450h5v1h-5zM251 451h1v1h-1zM250 452h1v1h-1zM250 453h1v1h-1zM249 454h1v1h-1zM249 455h1v1h-1zM248 456h1v1h-1zM254 454h4v1h-4zM260 450h3v1h-3zM259 451h1v1h-1zM263 451h1v1h-1zM259 452h1v1h-1zM263 452h1v1h-1zM259 453h1v1h-1zM263 453h1v1h-1zM259 454h1v1h-1zM263 454h1v1h-1zM259 455h1v1h-1zM263 455h1v1h-1zM260 456h3v1h-3zM267 450h2v1h-2zM266 451h1v1h-1zM269 451h1v1h-1zM266 452h1v1h-1zM269 452h1v1h-1zM267 453h2v1h-2zM266 454h1v1h-1zM269 454h1v1h-1zM266 455h1v1h-1zM269 455h1v1h-1zM267 456h2v1h-2zM279 450h2v1h-2zM278 451h1v1h-1zM280 451h1v1h-1zM280 452h1v1h-1zM280 453h1v1h-1zM280 454h1v1h-1zM280 455h1v1h-1zM280 456h1v1h-1zM285 450h2v1h-2zM284 451h1v1h-1zM286 451h1v1h-1zM286 452h1v1h-1zM286 453h1v1h-1zM286 454h1v1h-1zM286 455h1v1h-1zM286 456h1v1h-1zM290 454h4v1h-4zM296 450h3v1h-3zM295 451h1v1h-1zM299 451h1v1h-1zM295 452h1v1h-1zM299 452h1v1h-1zM295 453h1v1h-1zM299 453h1v1h-1zM295 454h1v1h-1zM299 454h1v1h-1zM295 455h1v1h-1zM299 455h1v1h-1zM296 456h3v1h-3zM303 450h2v1h-2zM302 451h1v1h-1zM305 451h1v1h-1zM302 452h1v1h-1zM305 452h1v1h-1zM303 453h2v1h-2zM302 454h1v1h-1zM305 454h1v1h-1zM302 455h1v1h-1zM305 455h1v1h-1zM303 456h2v1h-2zM345 279h2v1h-2zM344 280h1v1h-1zM347 280h1v1h-1zM344 281h1v1h-1zM347 281h1v1h-1zM345 282h2v1h-2zM344 283h1v1h-1zM347 283h1v1h-1zM344 284h1v1h-1zM347 284h1v1h-1zM345 285h2v1h-2zM350 279h3v1h-3zM349 280h1v1h-1zM353 280h1v1h-1zM349 281h1v1h-1zM353 281h1v1h-1zM349 282h1v1h-1zM353 282h1v1h-1zM349 283h1v1h-1zM353 283h1v1h-1zM349 284h1v1h-1zM353 284h1v1h-1zM350 285h3v1h-3zM343 303h5v1h-5zM347 304h1v1h-1zM346 305h1v1h-1zM346 306h1v1h-1zM345 307h1v1h-1zM345 308h1v1h-1zM344 309h1v1h-1zM350 303h3v1h-3zM349 304h1v1h-1zM353 304h1v1h-1zM349 305h1v1h-1zM353 305h1v1h-1zM349 306h1v1h-1zM353 306h1v1h-1zM349 307h1v1h-1zM353 307h1v1h-1zM349 308h1v1h-1zM353 308h1v1h-1zM350 309h3v1h-3zM345 326h3v1h-3zM344 327h1v1h-1zM344 328h1v1h-1zM344 329h3v1h-3zM344 330h1v1h-1zM347 330h1v1h-1zM344 331h1v1h-1zM347 331h1v1h-1zM345 332h2v1h-2zM350 326h3v1h-3zM349 327h1v1h-1zM353 327h1v1h-1zM349 328h1v1h-1zM353 328h1v1h-1zM349 329h1v1h-1zM353 329h1v1h-1zM349 330h1v1h-1zM353 330h1v1h-1zM349 331h1v1h-1zM353 331h1v1h-1zM350 332h3v1h-3zM344 350h4v1h-4zM344 351h1v1h-1zM344 352h3v1h-3zM347 353h1v1h-1zM347 354h1v1h-1zM343 355h1v1h-1zM347 355h1v1h-1zM344 356h3v1h-3zM350 350h3v1h-3zM349 351h1v1h-1zM353 351h1v1h-1zM349 352h1v1h-1zM353 352h1v1h-1zM349 353h1v1h-1zM353 353h1v1h-1zM349 354h1v1h-1zM353 354h1v1h-1zM349 355h1v1h-1zM353 355h1v1h-1zM350 356h3v1h-3zM346 373h1v1h-1zM345 374h1v1h-1zM344 375h1v1h-1zM346 375h1v1h-1zM343 376h1v1h-1zM346 376h1v1h-1zM343 377h5v1h-5zM346 378h1v1h-1zM346 379h1v1h-1zM350 373h3v1h-3zM349 374h1v1h-1zM353 374h1v1h-1zM349 375h1v1h-1zM353 375h1v1h-1zM349 376h1v1h-1zM353 376h1v1h-1zM349 377h1v1h-1zM353 377h1v1h-1zM349 378h1v1h-1zM353 378h1v1h-1zM350 379h3v1h-3zM344 397h3v1h-3zM343 398h1v1h-1zM347 398h1v1h-1zM347 399h1v1h-1zM345 400h2v1h-2zM347 401h1v1h-1zM343 402h1v1h-1zM347 402h1v1h-1zM344 403h3v1h-3zM350 397h3v1h-3zM349 398h1v1h-1zM353 398h1v1h-1zM349 399h1v1h-1zM353 399h1v1h-1zM349 400h1v1h-1zM353 400h1v1h-1zM349 401h1v1h-1zM353 401h1v1h-1zM349 402h1v1h-1zM353 402h1v1h-1zM350 403h3v1h-3zM345 420h2v1h-2zM344 421h1v1h-1zM347 421h1v1h-1zM347 422h1v1h-1zM346 423h1v1h-1zM345 424h1v1h-1zM344 425h1v1h-1zM344 426h4v1h-4zM350 420h3v1h-3zM349 421h1v1h-1zM353 421h1v1h-1zM349 422h1v1h-1zM353 422h1v1h-1zM349 423h1v1h-1zM353 423h1v1h-1zM349 424h1v1h-1zM353 424h1v1h-1zM349 425h1v1h-1zM353 425h1v1h-1zM350 426h3v1h-3zM345 444h2v1h-2zM344 445h1v1h-1zM346 445h1v1h-1zM346 446h1v1h-1zM346 447h1v1h-1zM346 448h1v1h-1zM346 449h1v1h-1zM346 450h1v1h-1zM350 444h3v1h-3zM349 445h1v1h-1zM353 445h1v1h-1zM349 446h1v1h-1zM353 446h1v1h-1zM349 447h1v1h-1zM353 447h1v1h-1zM349 448h1v1h-1zM353 448h1v1h-1zM349 449h1v1h-1zM353 449h1v1h-1zM350 450h3v1h-3zM375 450h2v1h-2zM374 451h1v1h-1zM376 451h1v1h-1zM376 452h1v1h-1zM376 453h1v1h-1zM376 454h1v1h-1zM376 455h1v1h-1zM376 456h1v1h-1zM381 450h2v1h-2zM380 451h1v1h-1zM383 451h1v1h-1zM380 452h1v1h-1zM383 452h1v1h-1zM381 453h2v1h-2zM380 454h1v1h-1zM383 454h1v1h-1zM380 455h1v1h-1zM383 455h1v1h-1zM381 456h2v1h-2zM386 454h4v1h-4zM392 450h3v1h-3zM391 451h1v1h-1zM395 451h1v1h-1zM391 452h1v1h-1zM395 452h1v1h-1zM391 453h1v1h-1zM395 453h1v1h-1zM391 454h1v1h-1zM395 454h1v1h-1zM391 455h1v1h-1zM395 455h1v1h-1zM392 456h3v1h-3zM397 450h5v1h-5zM401 451h1v1h-1zM400 452h1v1h-1zM400 453h1v1h-1zM399 454h1v1h-1zM399 455h1v1h-1zM398 456h1v1h-1zM412 450h2v1h-2zM411 451h1v1h-1zM414 451h1v1h-1zM414 452h1v1h-1zM413 453h1v1h-1zM412 454h1v1h-1zM411 455h1v1h-1zM411 456h4v1h-4zM418 450h2v1h-2zM417 451h1v1h-1zM420 451h1v1h-1zM420 452h1v1h-1zM419 453h1v1h-1zM418 454h1v1h-1zM417 455h1v1h-1zM417 456h4v1h-4zM423 454h4v1h-4zM429 450h3v1h-3zM428 451h1v1h-1zM432 451h1v1h-1zM428 452h1v1h-1zM432 452h1v1h-1zM428 453h1v1h-1zM432 453h1v1h-1zM428 454h1v1h-1zM432 454h1v1h-1zM428 455h1v1h-1zM432 455h1v1h-1zM429 456h3v1h-3zM434 450h5v1h-5zM438 451h1v1h-1zM437 452h1v1h-1zM437 453h1v1h-1zM436 454h1v1h-1zM436 455h1v1h-1zM435 456h1v1h-1zM449 450h2v1h-2zM448 451h1v1h-1zM451 451h1v1h-1zM451 452h1v1h-1zM450 453h1v1h-1zM449 454h1v1h-1zM448 455h1v1h-1zM448 456h4v1h-4zM455 450h3v1h-3zM454 451h1v1h-1zM454 452h1v1h-1zM454 453h3v1h-3zM454 454h1v1h-1zM457 454h1v1h-1zM454 455h1v1h-1zM457 455h1v1h-1zM455 456h2v1h-2zM460 454h4v1h-4zM466 450h3v1h-3zM465 451h1v1h-1zM469 451h1v1h-1zM465 452h1v1h-1zM469 452h1v1h-1zM465 453h1v1h-1zM469 453h1v1h-1zM465 454h1v1h-1zM469 454h1v1h-1zM465 455h1v1h-1zM469 455h1v1h-1zM466 456h3v1h-3zM471 450h5v1h-5zM475 451h1v1h-1zM474 452h1v1h-1zM474 453h1v1h-1zM473 454h1v1h-1zM473 455h1v1h-1zM472 456h1v1h-1zM484 450h3v1h-3zM483 451h1v1h-1zM487 451h1v1h-1zM487 452h1v1h-1zM485 453h2v1h-2zM487 454h1v1h-1zM483 455h1v1h-1zM487 455h1v1h-1zM484 456h3v1h-3zM490 450h3v1h-3zM489 451h1v1h-1zM493 451h1v1h-1zM489 452h1v1h-1zM493 452h1v1h-1zM489 453h1v1h-1zM493 453h1v1h-1zM489 454h1v1h-1zM493 454h1v1h-1zM489 455h1v1h-1zM493 455h1v1h-1zM490 456h3v1h-3zM496 454h4v1h-4zM502 450h3v1h-3zM501 451h1v1h-1zM505 451h1v1h-1zM501 452h1v1h-1zM505 452h1v1h-1zM501 453h1v1h-1zM505 453h1v1h-1zM501 454h1v1h-1zM505 454h1v1h-1zM501 455h1v1h-1zM505 455h1v1h-1zM502 456h3v1h-3zM507 450h5v1h-5zM511 451h1v1h-1zM510 452h1v1h-1zM510 453h1v1h-1zM509 454h1v1h-1zM509 455h1v1h-1zM508 456h1v1h-1zM521 450h3v1h-3zM520 451h1v1h-1zM524 451h1v1h-1zM520 452h1v1h-1zM524 452h1v1h-1zM520 453h1v1h-1zM524 453h1v1h-1zM520 454h1v1h-1zM524 454h1v1h-1zM520 455h1v1h-1zM524 455h1v1h-1zM521 456h3v1h-3zM527 450h3v1h-3zM526 451h1v1h-1zM530 451h1v1h-1zM530 452h1v1h-1zM528 453h2v1h-2zM530 454h1v1h-1zM526 455h1v1h-1zM530 455h1v1h-1zM527 456h3v1h-3zM533 454h4v1h-4zM539 450h3v1h-3zM538 451h1v1h-1zM542 451h1v1h-1zM538 452h1v1h-1zM542 452h1v1h-1zM538 453h1v1h-1zM542 453h1v1h-1zM538 454h1v1h-1zM542 454h1v1h-1zM538 455h1v1h-1zM542 455h1v1h-1zM539 456h3v1h-3zM546 450h2v1h-2zM545 451h1v1h-1zM548 451h1v1h-1zM545 452h1v1h-1zM548 452h1v1h-1zM546 453h2v1h-2zM545 454h1v1h-1zM548 454h1v1h-1zM545 455h1v1h-1zM548 455h1v1h-1zM546 456h2v1h-2zM558 450h3v1h-3zM557 451h1v1h-1zM561 451h1v1h-1zM557 452h1v1h-1zM561 452h1v1h-1zM557 453h1v1h-1zM561 453h1v1h-1zM557 454h1v1h-1zM561 454h1v1h-1zM557 455h1v1h-1zM561 455h1v1h-1zM558 456h3v1h-3zM563 450h5v1h-5zM567 451h1v1h-1zM566 452h1v1h-1zM566 453h1v1h-1zM565 454h1v1h-1zM565 455h1v1h-1zM564 456h1v1h-1zM570 454h4v1h-4zM576 450h3v1h-3zM575 451h1v1h-1zM579 451h1v1h-1zM575 452h1v1h-1zM579 452h1v1h-1zM575 453h1v1h-1zM579 453h1v1h-1zM575 454h1v1h-1zM579 454h1v1h-1zM575 455h1v1h-1zM579 455h1v1h-1zM576 456h3v1h-3zM583 450h2v1h-2zM582 451h1v1h-1zM585 451h1v1h-1zM582 452h1v1h-1zM585 452h1v1h-1zM583 453h2v1h-2zM582 454h1v1h-1zM585 454h1v1h-1zM582 455h1v1h-1zM585 455h1v1h-1zM583 456h2v1h-2zM595 450h2v1h-2zM594 451h1v1h-1zM596 451h1v1h-1zM596 452h1v1h-1zM596 453h1v1h-1zM596 454h1v1h-1zM596 455h1v1h-1zM596 456h1v1h-1zM601 450h2v1h-2zM600 451h1v1h-1zM602 451h1v1h-1zM602 452h1v1h-1zM602 453h1v1h-1zM602 454h1v1h-1zM602 455h1v1h-1zM602 456h1v1h-1zM606 454h4v1h-4zM612 450h3v1h-3zM611 451h1v1h-1zM615 451h1v1h-1zM611 452h1v1h-1zM615 452h1v1h-1zM611 453h1v1h-1zM615 453h1v1h-1zM611 454h1v1h-1zM615 454h1v1h-1zM611 455h1v1h-1zM615 455h1v1h-1zM612 456h3v1h-3zM619 450h2v1h-2zM618 451h1v1h-1zM621 451h1v1h-1zM618 452h1v1h-1zM621 452h1v1h-1zM619 453h2v1h-2zM618 454h1v1h-1zM621 454h1v1h-1zM618 455h1v1h-1zM621 455h1v1h-1zM619 456h2v1h-2z"/>
</svg>
</body></html>
